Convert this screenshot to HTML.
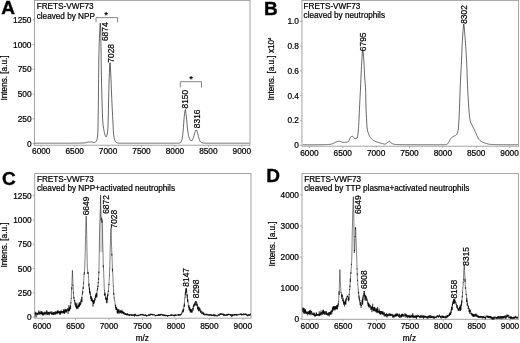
<!DOCTYPE html><html><head><meta charset="utf-8"><style>html,body{margin:0;padding:0;background:#fff;}body{width:520px;height:343px;overflow:hidden;}</style></head><body><svg width="520" height="343" viewBox="0 0 520 343" style="display:block;font-family:'Liberation Sans', Arial, Helvetica, sans-serif">
<rect width="520" height="343" fill="#fff"/>
<rect x="34.5" y="0.4" width="215.50" height="144.80" fill="none" stroke="#9a9a9a" stroke-width="0.9"/>
<line x1="32.5" y1="143.6" x2="34.5" y2="143.6" stroke="#9a9a9a" stroke-width="0.8"/>
<text x="31.5" y="146.50" font-size="8.3" text-anchor="end" fill="#000" stroke="#000" stroke-width="0.22">0</text>
<line x1="32.5" y1="118.85" x2="34.5" y2="118.85" stroke="#9a9a9a" stroke-width="0.8"/>
<text x="31.5" y="121.75" font-size="8.3" text-anchor="end" fill="#000" stroke="#000" stroke-width="0.22">250</text>
<line x1="32.5" y1="94.1" x2="34.5" y2="94.1" stroke="#9a9a9a" stroke-width="0.8"/>
<text x="31.5" y="97.00" font-size="8.3" text-anchor="end" fill="#000" stroke="#000" stroke-width="0.22">500</text>
<line x1="32.5" y1="69.35" x2="34.5" y2="69.35" stroke="#9a9a9a" stroke-width="0.8"/>
<text x="31.5" y="72.25" font-size="8.3" text-anchor="end" fill="#000" stroke="#000" stroke-width="0.22">750</text>
<line x1="32.5" y1="44.6" x2="34.5" y2="44.6" stroke="#9a9a9a" stroke-width="0.8"/>
<text x="31.5" y="47.50" font-size="8.3" text-anchor="end" fill="#000" stroke="#000" stroke-width="0.22">1000</text>
<line x1="32.5" y1="19.85" x2="34.5" y2="19.85" stroke="#9a9a9a" stroke-width="0.8"/>
<text x="31.5" y="22.75" font-size="8.3" text-anchor="end" fill="#000" stroke="#000" stroke-width="0.22">1250</text>
<line x1="41.25" y1="145.2" x2="41.25" y2="147.2" stroke="#9a9a9a" stroke-width="0.8"/>
<text x="41.25" y="154.3" font-size="8.3" text-anchor="middle" fill="#000" stroke="#000" stroke-width="0.22">6000</text>
<line x1="74.68" y1="145.2" x2="74.68" y2="147.2" stroke="#9a9a9a" stroke-width="0.8"/>
<text x="74.68" y="154.3" font-size="8.3" text-anchor="middle" fill="#000" stroke="#000" stroke-width="0.22">6500</text>
<line x1="108.10" y1="145.2" x2="108.10" y2="147.2" stroke="#9a9a9a" stroke-width="0.8"/>
<text x="108.10" y="154.3" font-size="8.3" text-anchor="middle" fill="#000" stroke="#000" stroke-width="0.22">7000</text>
<line x1="141.53" y1="145.2" x2="141.53" y2="147.2" stroke="#9a9a9a" stroke-width="0.8"/>
<text x="141.53" y="154.3" font-size="8.3" text-anchor="middle" fill="#000" stroke="#000" stroke-width="0.22">7500</text>
<line x1="174.95" y1="145.2" x2="174.95" y2="147.2" stroke="#9a9a9a" stroke-width="0.8"/>
<text x="174.95" y="154.3" font-size="8.3" text-anchor="middle" fill="#000" stroke="#000" stroke-width="0.22">8000</text>
<line x1="208.38" y1="145.2" x2="208.38" y2="147.2" stroke="#9a9a9a" stroke-width="0.8"/>
<text x="208.38" y="154.3" font-size="8.3" text-anchor="middle" fill="#000" stroke="#000" stroke-width="0.22">8500</text>
<line x1="241.80" y1="145.2" x2="241.80" y2="147.2" stroke="#9a9a9a" stroke-width="0.8"/>
<text x="241.80" y="154.3" font-size="8.3" text-anchor="middle" fill="#000" stroke="#000" stroke-width="0.22">9000</text>
<text x="36.7" y="9.40" font-size="8.2" fill="#000" stroke="#000" stroke-width="0.22">FRETS-VWF73</text>
<text x="36.7" y="18.60" font-size="8.2" fill="#000" stroke="#000" stroke-width="0.22">cleaved by NPP</text>
<text x="1.2" y="13.8" font-size="19" font-weight="bold" fill="#000" stroke="#000" stroke-width="0.35">A</text>
<text transform="translate(7.0,78.0) rotate(-90)" font-size="8.2" text-anchor="middle" fill="#000" stroke="#000" stroke-width="0.22">Intens. [a.u.]</text>
<polyline points="34.60,143.20 34.80,143.20 35.00,143.20 35.20,143.20 35.40,143.20 35.60,143.20 35.80,143.20 36.00,143.20 36.20,143.20 36.40,143.20 36.60,143.20 36.80,143.20 37.00,143.20 37.20,143.20 37.40,143.20 37.60,143.20 37.80,143.20 38.00,143.20 38.20,143.20 38.40,143.20 38.60,143.20 38.80,143.20 39.00,143.20 39.20,143.20 39.40,143.20 39.60,143.20 39.80,143.20 40.00,143.20 40.20,143.20 40.40,143.20 40.60,143.20 40.80,143.20 41.00,143.20 41.20,143.20 41.40,143.20 41.60,143.20 41.80,143.20 42.00,143.20 42.20,143.20 42.40,143.20 42.60,143.20 42.80,143.20 43.00,143.20 43.20,143.20 43.40,143.20 43.60,143.20 43.80,143.20 44.00,143.20 44.20,143.20 44.40,143.20 44.60,143.20 44.80,143.20 45.00,143.20 45.20,143.20 45.40,143.20 45.60,143.20 45.80,143.20 46.00,143.20 46.20,143.20 46.40,143.20 46.60,143.20 46.80,143.20 47.00,143.20 47.20,143.20 47.40,143.20 47.60,143.20 47.80,143.20 48.00,143.20 48.20,143.20 48.40,143.20 48.60,143.20 48.80,143.20 49.00,143.20 49.20,143.20 49.40,143.20 49.60,143.20 49.80,143.20 50.00,143.20 50.20,143.20 50.40,143.20 50.60,143.20 50.80,143.20 51.00,143.20 51.20,143.20 51.40,143.20 51.60,143.20 51.80,143.20 52.00,143.20 52.20,143.20 52.40,143.20 52.60,143.20 52.80,143.20 53.00,143.20 53.20,143.20 53.40,143.20 53.60,143.20 53.80,143.20 54.00,143.20 54.20,143.20 54.40,143.20 54.60,143.20 54.80,143.20 55.00,143.20 55.20,143.20 55.40,143.20 55.60,143.20 55.80,143.20 56.00,143.20 56.20,143.20 56.40,143.20 56.60,143.20 56.80,143.20 57.00,143.20 57.20,143.20 57.40,143.20 57.60,143.20 57.80,143.20 58.00,143.20 58.20,143.20 58.40,143.20 58.60,143.20 58.80,143.20 59.00,143.20 59.20,143.20 59.40,143.20 59.60,143.20 59.80,143.20 60.00,143.20 60.20,143.20 60.40,143.20 60.60,143.20 60.80,143.20 61.00,143.20 61.20,143.20 61.40,143.20 61.60,143.20 61.80,143.20 62.00,143.20 62.20,143.20 62.40,143.20 62.60,143.20 62.80,143.20 63.00,143.20 63.20,143.20 63.40,143.20 63.60,143.20 63.80,143.20 64.00,143.20 64.20,143.20 64.40,143.20 64.60,143.20 64.80,143.20 65.00,143.19 65.20,143.19 65.40,143.19 65.60,143.19 65.80,143.19 66.00,143.19 66.20,143.19 66.40,143.19 66.60,143.19 66.80,143.19 67.00,143.19 67.20,143.19 67.40,143.19 67.60,143.19 67.80,143.19 68.00,143.19 68.20,143.19 68.40,143.18 68.60,143.18 68.80,143.18 69.00,143.18 69.20,143.18 69.40,143.18 69.60,143.18 69.80,143.18 70.00,143.18 70.20,143.18 70.40,143.18 70.60,143.17 70.80,143.17 71.00,143.17 71.20,143.17 71.40,143.17 71.60,143.17 71.80,143.17 72.00,143.17 72.20,143.17 72.40,143.16 72.60,143.16 72.80,143.16 73.00,143.16 73.20,143.16 73.40,143.16 73.60,143.16 73.80,143.16 74.00,143.15 74.20,143.15 74.40,143.15 74.60,143.15 74.80,143.15 75.00,143.15 75.20,143.15 75.40,143.14 75.60,143.14 75.80,143.14 76.00,143.14 76.20,143.14 76.40,143.14 76.60,143.13 76.80,143.13 77.00,143.13 77.20,143.13 77.40,143.13 77.60,143.12 77.80,143.12 78.00,143.12 78.20,143.12 78.40,143.12 78.60,143.11 78.80,143.11 79.00,143.11 79.20,143.11 79.40,143.11 79.60,143.10 79.80,143.10 80.00,143.10 80.20,143.10 80.40,143.09 80.60,143.09 80.80,143.08 81.00,143.08 81.20,143.07 81.40,143.06 81.60,143.05 81.80,143.04 82.00,143.03 82.20,143.02 82.40,143.01 82.60,143.00 82.80,142.99 83.00,142.97 83.20,142.96 83.40,142.94 83.60,142.93 83.80,142.91 84.00,142.89 84.20,142.88 84.40,142.86 84.60,142.84 84.80,142.82 85.00,142.80 85.20,142.77 85.40,142.74 85.60,142.69 85.80,142.64 86.00,142.58 86.20,142.52 86.40,142.46 86.60,142.40 86.80,142.34 87.00,142.28 87.20,142.23 87.40,142.18 87.60,142.14 87.80,142.12 88.00,142.10 88.20,142.09 88.40,142.08 88.60,142.07 88.80,142.07 89.00,142.06 89.20,142.05 89.40,142.04 89.60,142.04 89.80,142.03 90.00,142.03 90.20,142.02 90.40,142.02 90.60,142.01 90.80,142.01 91.00,142.01 91.20,142.00 91.40,142.00 91.60,142.00 91.80,142.00 92.00,142.00 92.20,142.02 92.40,142.07 92.60,142.15 92.80,142.25 93.00,142.35 93.20,142.45 93.40,142.55 93.60,142.63 93.80,142.68 94.00,142.70 94.20,142.68 94.40,142.64 94.60,142.57 94.80,142.48 95.00,142.37 95.20,142.26 95.40,142.13 95.60,141.97 95.80,141.75 96.00,141.49 96.20,141.18 96.40,140.83 96.60,140.42 96.80,139.96 97.00,139.36 97.20,138.54 97.40,137.45 97.60,136.00 97.80,133.14 98.00,128.00 98.20,116.56 98.40,100.00 98.60,78.68 98.80,60.00 99.00,50.47 99.20,43.67 99.40,38.51 99.60,33.61 99.80,29.19 100.00,25.66 100.20,23.45 100.40,23.11 100.60,27.50 100.80,35.50 101.00,46.17 101.20,63.01 101.40,75.35 101.60,84.76 101.80,92.83 102.00,100.00 102.20,106.93 102.40,113.37 102.60,118.40 102.80,121.41 103.00,123.65 103.20,125.48 103.40,127.01 103.60,128.31 103.80,129.50 104.00,130.63 104.20,131.69 104.40,132.67 104.60,133.56 104.80,134.33 105.00,134.98 105.20,135.50 105.40,135.94 105.60,136.36 105.80,136.68 106.00,136.87 106.20,136.87 106.40,136.62 106.60,136.16 106.80,135.55 107.00,134.81 107.20,134.00 107.40,133.00 107.60,131.60 107.80,129.64 108.00,127.00 108.20,120.43 108.40,109.88 108.60,100.00 108.80,91.93 109.00,84.21 109.20,77.63 109.40,72.59 109.60,67.85 109.80,64.18 110.00,62.70 110.20,63.91 110.40,66.95 110.60,70.94 110.80,75.00 111.00,79.40 111.20,84.60 111.40,90.00 111.60,95.00 111.80,99.52 112.00,103.86 112.20,108.00 112.40,111.92 112.60,115.54 112.80,119.13 113.00,123.08 113.20,127.69 113.40,131.69 113.60,133.96 113.80,135.67 114.00,137.11 114.20,138.27 114.40,139.17 114.60,139.80 114.80,140.28 115.00,140.72 115.20,141.11 115.40,141.46 115.60,141.77 115.80,142.03 116.00,142.25 116.20,142.42 116.40,142.55 116.60,142.64 116.80,142.72 117.00,142.80 117.20,142.87 117.40,142.93 117.60,142.99 117.80,143.05 118.00,143.09 118.20,143.13 118.40,143.16 118.60,143.18 118.80,143.20 119.00,143.20 119.20,143.20 119.40,143.20 119.60,143.20 119.80,143.20 120.00,143.20 120.20,143.20 120.40,143.20 120.60,143.20 120.80,143.20 121.00,143.20 121.20,143.20 121.40,143.20 121.60,143.20 121.80,143.20 122.00,143.20 122.20,143.20 122.40,143.20 122.60,143.20 122.80,143.20 123.00,143.20 123.20,143.20 123.40,143.20 123.60,143.20 123.80,143.20 124.00,143.20 124.20,143.20 124.40,143.20 124.60,143.20 124.80,143.20 125.00,143.20 125.20,143.20 125.40,143.20 125.60,143.20 125.80,143.20 126.00,143.20 126.20,143.20 126.40,143.20 126.60,143.20 126.80,143.20 127.00,143.20 127.20,143.20 127.40,143.20 127.60,143.20 127.80,143.20 128.00,143.20 128.20,143.20 128.40,143.20 128.60,143.20 128.80,143.20 129.00,143.20 129.20,143.20 129.40,143.20 129.60,143.20 129.80,143.20 130.00,143.20 130.20,143.20 130.40,143.20 130.60,143.20 130.80,143.20 131.00,143.20 131.20,143.20 131.40,143.20 131.60,143.20 131.80,143.20 132.00,143.20 132.20,143.20 132.40,143.20 132.60,143.20 132.80,143.20 133.00,143.20 133.20,143.20 133.40,143.20 133.60,143.20 133.80,143.20 134.00,143.20 134.20,143.20 134.40,143.20 134.60,143.20 134.80,143.20 135.00,143.20 135.20,143.20 135.40,143.20 135.60,143.20 135.80,143.20 136.00,143.20 136.20,143.20 136.40,143.20 136.60,143.20 136.80,143.20 137.00,143.20 137.20,143.20 137.40,143.20 137.60,143.20 137.80,143.20 138.00,143.20 138.20,143.20 138.40,143.20 138.60,143.20 138.80,143.20 139.00,143.20 139.20,143.20 139.40,143.20 139.60,143.20 139.80,143.20 140.00,143.20 140.20,143.20 140.40,143.20 140.60,143.20 140.80,143.20 141.00,143.20 141.20,143.20 141.40,143.20 141.60,143.20 141.80,143.20 142.00,143.20 142.20,143.20 142.40,143.20 142.60,143.20 142.80,143.20 143.00,143.20 143.20,143.20 143.40,143.20 143.60,143.20 143.80,143.20 144.00,143.20 144.20,143.20 144.40,143.20 144.60,143.20 144.80,143.20 145.00,143.20 145.20,143.20 145.40,143.20 145.60,143.20 145.80,143.20 146.00,143.20 146.20,143.20 146.40,143.20 146.60,143.20 146.80,143.20 147.00,143.20 147.20,143.20 147.40,143.20 147.60,143.20 147.80,143.20 148.00,143.20 148.20,143.20 148.40,143.20 148.60,143.20 148.80,143.20 149.00,143.20 149.20,143.20 149.40,143.20 149.60,143.20 149.80,143.20 150.00,143.20 150.20,143.20 150.40,143.20 150.60,143.20 150.80,143.20 151.00,143.20 151.20,143.20 151.40,143.20 151.60,143.20 151.80,143.20 152.00,143.20 152.20,143.20 152.40,143.20 152.60,143.20 152.80,143.20 153.00,143.20 153.20,143.20 153.40,143.20 153.60,143.20 153.80,143.20 154.00,143.20 154.20,143.20 154.40,143.20 154.60,143.20 154.80,143.20 155.00,143.20 155.20,143.20 155.40,143.20 155.60,143.20 155.80,143.20 156.00,143.20 156.20,143.20 156.40,143.20 156.60,143.20 156.80,143.20 157.00,143.20 157.20,143.20 157.40,143.20 157.60,143.20 157.80,143.20 158.00,143.20 158.20,143.20 158.40,143.20 158.60,143.20 158.80,143.20 159.00,143.20 159.20,143.20 159.40,143.20 159.60,143.20 159.80,143.20 160.00,143.20 160.20,143.20 160.40,143.20 160.60,143.20 160.80,143.20 161.00,143.20 161.20,143.20 161.40,143.20 161.60,143.20 161.80,143.20 162.00,143.20 162.20,143.20 162.40,143.20 162.60,143.20 162.80,143.20 163.00,143.20 163.20,143.20 163.40,143.20 163.60,143.20 163.80,143.20 164.00,143.20 164.20,143.20 164.40,143.20 164.60,143.20 164.80,143.20 165.00,143.20 165.20,143.20 165.40,143.20 165.60,143.20 165.80,143.20 166.00,143.20 166.20,143.20 166.40,143.20 166.60,143.20 166.80,143.20 167.00,143.20 167.20,143.20 167.40,143.20 167.60,143.20 167.80,143.20 168.00,143.20 168.20,143.20 168.40,143.20 168.60,143.20 168.80,143.20 169.00,143.20 169.20,143.20 169.40,143.20 169.60,143.20 169.80,143.20 170.00,143.20 170.20,143.20 170.40,143.20 170.60,143.20 170.80,143.20 171.00,143.20 171.20,143.20 171.40,143.20 171.60,143.20 171.80,143.20 172.00,143.20 172.20,143.20 172.40,143.20 172.60,143.20 172.80,143.20 173.00,143.20 173.20,143.20 173.40,143.20 173.60,143.20 173.80,143.20 174.00,143.20 174.20,143.20 174.40,143.20 174.60,143.20 174.80,143.20 175.00,143.20 175.20,143.20 175.40,143.20 175.60,143.20 175.80,143.20 176.00,143.20 176.20,143.20 176.40,143.20 176.60,143.20 176.80,143.20 177.00,143.20 177.20,143.20 177.40,143.20 177.60,143.20 177.80,143.20 178.00,143.20 178.20,143.20 178.40,143.19 178.60,143.17 178.80,143.15 179.00,143.12 179.20,143.08 179.40,143.04 179.60,142.99 179.80,142.94 180.00,142.88 180.20,142.81 180.40,142.74 180.60,142.65 180.80,142.46 181.00,142.16 181.20,141.78 181.40,141.31 181.60,140.77 181.80,140.16 182.00,139.50 182.20,138.59 182.40,137.30 182.60,135.70 182.80,133.90 183.00,131.97 183.20,130.00 183.40,127.72 183.60,125.00 183.80,122.11 184.00,119.33 184.20,116.95 184.40,115.12 184.60,113.34 184.80,111.68 185.00,110.36 185.20,109.60 185.40,109.61 185.60,110.39 185.80,111.74 186.00,113.40 186.20,115.16 186.40,116.88 186.60,119.01 186.80,121.41 187.00,123.87 187.20,126.14 187.40,128.00 187.60,129.54 187.80,131.01 188.00,132.37 188.20,133.62 188.40,134.74 188.60,135.70 188.80,136.50 189.00,137.19 189.20,137.85 189.40,138.45 189.60,139.00 189.80,139.46 190.00,139.84 190.20,140.11 190.40,140.28 190.60,140.42 190.80,140.54 191.00,140.65 191.20,140.73 191.40,140.78 191.60,140.80 191.80,140.73 192.00,140.53 192.20,140.24 192.40,139.88 192.60,139.46 192.80,139.03 193.00,138.60 193.20,138.12 193.40,137.53 193.60,136.87 193.80,136.16 194.00,135.44 194.20,134.73 194.40,134.08 194.60,133.50 194.80,132.94 195.00,132.34 195.20,131.74 195.40,131.17 195.60,130.67 195.80,130.26 196.00,130.00 196.20,129.90 196.40,130.00 196.60,130.28 196.80,130.69 197.00,131.21 197.20,131.79 197.40,132.40 197.60,133.00 197.80,133.69 198.00,134.54 198.20,135.48 198.40,136.42 198.60,137.28 198.80,138.00 199.00,138.61 199.20,139.22 199.40,139.79 199.60,140.32 199.80,140.79 200.00,141.18 200.20,141.49 200.40,141.70 200.60,141.88 200.80,142.05 201.00,142.21 201.20,142.35 201.40,142.48 201.60,142.59 201.80,142.69 202.00,142.77 202.20,142.83 202.40,142.88 202.60,142.92 202.80,142.95 203.00,142.97 203.20,143.00 203.40,143.03 203.60,143.05 203.80,143.07 204.00,143.10 204.20,143.11 204.40,143.13 204.60,143.15 204.80,143.16 205.00,143.17 205.20,143.18 205.40,143.19 205.60,143.20 205.80,143.20 206.00,143.20 206.20,143.20 206.40,143.20 206.60,143.20 206.80,143.20 207.00,143.20 207.20,143.20 207.40,143.20 207.60,143.20 207.80,143.20 208.00,143.20 208.20,143.20 208.40,143.20 208.60,143.20 208.80,143.20 209.00,143.20 209.20,143.20 209.40,143.20 209.60,143.20 209.80,143.20 210.00,143.20 210.20,143.20 210.40,143.20 210.60,143.20 210.80,143.20 211.00,143.20 211.20,143.20 211.40,143.20 211.60,143.20 211.80,143.20 212.00,143.20 212.20,143.20 212.40,143.20 212.60,143.20 212.80,143.20 213.00,143.20 213.20,143.20 213.40,143.20 213.60,143.20 213.80,143.20 214.00,143.20 214.20,143.20 214.40,143.20 214.60,143.20 214.80,143.20 215.00,143.20 215.20,143.20 215.40,143.20 215.60,143.20 215.80,143.20 216.00,143.20 216.20,143.20 216.40,143.20 216.60,143.20 216.80,143.20 217.00,143.20 217.20,143.20 217.40,143.20 217.60,143.20 217.80,143.20 218.00,143.20 218.20,143.20 218.40,143.20 218.60,143.20 218.80,143.20 219.00,143.20 219.20,143.20 219.40,143.20 219.60,143.20 219.80,143.20 220.00,143.20 220.20,143.20 220.40,143.20 220.60,143.20 220.80,143.20 221.00,143.20 221.20,143.20 221.40,143.20 221.60,143.20 221.80,143.20 222.00,143.20 222.20,143.20 222.40,143.20 222.60,143.20 222.80,143.20 223.00,143.20 223.20,143.20 223.40,143.20 223.60,143.20 223.80,143.20 224.00,143.20 224.20,143.20 224.40,143.20 224.60,143.20 224.80,143.20 225.00,143.20 225.20,143.20 225.40,143.20 225.60,143.20 225.80,143.20 226.00,143.20 226.20,143.20 226.40,143.20 226.60,143.20 226.80,143.20 227.00,143.20 227.20,143.20 227.40,143.20 227.60,143.20 227.80,143.20 228.00,143.20 228.20,143.20 228.40,143.20 228.60,143.20 228.80,143.20 229.00,143.20 229.20,143.20 229.40,143.20 229.60,143.20 229.80,143.20 230.00,143.20 230.20,143.20 230.40,143.20 230.60,143.20 230.80,143.20 231.00,143.20 231.20,143.20 231.40,143.20 231.60,143.20 231.80,143.20 232.00,143.20 232.20,143.20 232.40,143.20 232.60,143.20 232.80,143.20 233.00,143.20 233.20,143.20 233.40,143.20 233.60,143.20 233.80,143.20 234.00,143.20 234.20,143.20 234.40,143.20 234.60,143.20 234.80,143.20 235.00,143.20 235.20,143.20 235.40,143.20 235.60,143.20 235.80,143.20 236.00,143.20 236.20,143.20 236.40,143.20 236.60,143.20 236.80,143.20 237.00,143.20 237.20,143.20 237.40,143.20 237.60,143.20 237.80,143.20 238.00,143.20 238.20,143.20 238.40,143.20 238.60,143.20 238.80,143.20 239.00,143.20 239.20,143.20 239.40,143.20 239.60,143.20 239.80,143.20 240.00,143.20 240.20,143.20 240.40,143.20 240.60,143.20 240.80,143.20 241.00,143.20 241.20,143.20 241.40,143.20 241.60,143.20 241.80,143.20 242.00,143.20 242.20,143.20 242.40,143.20 242.60,143.20 242.80,143.20 243.00,143.20 243.20,143.20 243.40,143.20 243.60,143.20 243.80,143.20 244.00,143.20 244.20,143.20 244.40,143.20 244.60,143.20 244.80,143.20 245.00,143.20 245.20,143.20 245.40,143.20 245.60,143.20 245.80,143.20 246.00,143.20 246.20,143.20 246.40,143.20 246.60,143.20 246.80,143.20 247.00,143.20 247.20,143.20 247.40,143.20 247.60,143.20 247.80,143.20 248.00,143.20 248.20,143.20 248.40,143.20 248.60,143.20 248.80,143.20 249.00,143.20 249.20,143.20 249.40,143.20" fill="none" stroke="#000" stroke-width="0.6" stroke-linejoin="round"/>
<text transform="translate(108.0,22.4) rotate(-90)" font-size="8.4" text-anchor="end" fill="#000" stroke="#000" stroke-width="0.22">6874</text>
<text transform="translate(113.6,44.0) rotate(-90)" font-size="8.4" text-anchor="end" fill="#000" stroke="#000" stroke-width="0.22">7028</text>
<text transform="translate(188.4,89.8) rotate(-90)" font-size="8.4" text-anchor="end" fill="#000" stroke="#000" stroke-width="0.22">8150</text>
<text transform="translate(199.9,109.5) rotate(-90)" font-size="8.4" text-anchor="end" fill="#000" stroke="#000" stroke-width="0.22">8316</text>
<polyline points="96.0,22.4 96.0,17.6 117.6,17.6 117.6,22.4" fill="none" stroke="#555" stroke-width="0.7"/><text x="106.1" y="17.6" font-size="9.5" font-weight="bold" text-anchor="middle" fill="#000">*</text>
<polyline points="180.3,87.5 180.3,81.7 201.5,81.7 201.5,87.5" fill="none" stroke="#555" stroke-width="0.7"/><text x="191.0" y="82.3" font-size="9.5" font-weight="bold" text-anchor="middle" fill="#000">*</text>
<rect x="301.95" y="0.4" width="216.65" height="145.80" fill="none" stroke="#9a9a9a" stroke-width="0.9"/>
<line x1="299.95" y1="145.2" x2="301.95" y2="145.2" stroke="#9a9a9a" stroke-width="0.8"/>
<text x="298.95" y="148.10" font-size="8.3" text-anchor="end" fill="#000" stroke="#000" stroke-width="0.22">0</text>
<line x1="299.95" y1="120.44" x2="301.95" y2="120.44" stroke="#9a9a9a" stroke-width="0.8"/>
<text x="298.95" y="123.34" font-size="8.3" text-anchor="end" fill="#000" stroke="#000" stroke-width="0.22">0.2</text>
<line x1="299.95" y1="95.68" x2="301.95" y2="95.68" stroke="#9a9a9a" stroke-width="0.8"/>
<text x="298.95" y="98.58" font-size="8.3" text-anchor="end" fill="#000" stroke="#000" stroke-width="0.22">0.4</text>
<line x1="299.95" y1="70.92" x2="301.95" y2="70.92" stroke="#9a9a9a" stroke-width="0.8"/>
<text x="298.95" y="73.82" font-size="8.3" text-anchor="end" fill="#000" stroke="#000" stroke-width="0.22">0.6</text>
<line x1="299.95" y1="46.16" x2="301.95" y2="46.16" stroke="#9a9a9a" stroke-width="0.8"/>
<text x="298.95" y="49.06" font-size="8.3" text-anchor="end" fill="#000" stroke="#000" stroke-width="0.22">0.8</text>
<line x1="299.95" y1="21.4" x2="301.95" y2="21.4" stroke="#9a9a9a" stroke-width="0.8"/>
<text x="298.95" y="24.30" font-size="8.3" text-anchor="end" fill="#000" stroke="#000" stroke-width="0.22">1.0</text>
<line x1="309.40" y1="146.2" x2="309.40" y2="148.2" stroke="#9a9a9a" stroke-width="0.8"/>
<text x="309.40" y="155.7" font-size="8.3" text-anchor="middle" fill="#000" stroke="#000" stroke-width="0.22">6000</text>
<line x1="342.77" y1="146.2" x2="342.77" y2="148.2" stroke="#9a9a9a" stroke-width="0.8"/>
<text x="342.77" y="155.7" font-size="8.3" text-anchor="middle" fill="#000" stroke="#000" stroke-width="0.22">6500</text>
<line x1="376.13" y1="146.2" x2="376.13" y2="148.2" stroke="#9a9a9a" stroke-width="0.8"/>
<text x="376.13" y="155.7" font-size="8.3" text-anchor="middle" fill="#000" stroke="#000" stroke-width="0.22">7000</text>
<line x1="409.50" y1="146.2" x2="409.50" y2="148.2" stroke="#9a9a9a" stroke-width="0.8"/>
<text x="409.50" y="155.7" font-size="8.3" text-anchor="middle" fill="#000" stroke="#000" stroke-width="0.22">7500</text>
<line x1="442.87" y1="146.2" x2="442.87" y2="148.2" stroke="#9a9a9a" stroke-width="0.8"/>
<text x="442.87" y="155.7" font-size="8.3" text-anchor="middle" fill="#000" stroke="#000" stroke-width="0.22">8000</text>
<line x1="476.23" y1="146.2" x2="476.23" y2="148.2" stroke="#9a9a9a" stroke-width="0.8"/>
<text x="476.23" y="155.7" font-size="8.3" text-anchor="middle" fill="#000" stroke="#000" stroke-width="0.22">8500</text>
<line x1="509.60" y1="146.2" x2="509.60" y2="148.2" stroke="#9a9a9a" stroke-width="0.8"/>
<text x="509.60" y="155.7" font-size="8.3" text-anchor="middle" fill="#000" stroke="#000" stroke-width="0.22">9000</text>
<text x="303.55" y="8.80" font-size="8.2" fill="#000" stroke="#000" stroke-width="0.22">FRETS-VWF73</text>
<text x="303.55" y="18.10" font-size="8.2" fill="#000" stroke="#000" stroke-width="0.22">cleaved by neutrophils</text>
<text x="264.1" y="14.7" font-size="19" font-weight="bold" fill="#000" stroke="#000" stroke-width="0.35">B</text>
<text transform="translate(273.8,69.0) rotate(-90)" font-size="8.2" text-anchor="middle" fill="#000" stroke="#000" stroke-width="0.22">Intens. [a.u.] x10<tspan font-size="4.2" dy="-3.0">4</tspan></text>
<polyline points="302.90,144.60 303.10,144.61 303.30,144.62 303.50,144.63 303.70,144.64 303.90,144.65 304.10,144.66 304.30,144.67 304.50,144.68 304.70,144.69 304.90,144.70 305.10,144.70 305.30,144.71 305.50,144.72 305.70,144.73 305.90,144.73 306.10,144.74 306.30,144.75 306.50,144.76 306.70,144.76 306.90,144.77 307.10,144.77 307.30,144.78 307.50,144.78 307.70,144.79 307.90,144.79 308.10,144.79 308.30,144.79 308.50,144.80 308.70,144.80 308.90,144.80 309.10,144.80 309.30,144.80 309.50,144.80 309.70,144.80 309.90,144.80 310.10,144.80 310.30,144.80 310.50,144.80 310.70,144.79 310.90,144.79 311.10,144.79 311.30,144.79 311.50,144.79 311.70,144.79 311.90,144.78 312.10,144.78 312.30,144.78 312.50,144.78 312.70,144.77 312.90,144.77 313.10,144.77 313.30,144.76 313.50,144.76 313.70,144.76 313.90,144.75 314.10,144.75 314.30,144.75 314.50,144.75 314.70,144.74 314.90,144.74 315.10,144.74 315.30,144.73 315.50,144.73 315.70,144.73 315.90,144.72 316.10,144.72 316.30,144.72 316.50,144.71 316.70,144.71 316.90,144.71 317.10,144.70 317.30,144.70 317.50,144.70 317.70,144.69 317.90,144.69 318.10,144.69 318.30,144.69 318.50,144.68 318.70,144.68 318.90,144.68 319.10,144.68 319.30,144.67 319.50,144.67 319.70,144.67 319.90,144.67 320.10,144.66 320.30,144.66 320.50,144.66 320.70,144.66 320.90,144.65 321.10,144.65 321.30,144.65 321.50,144.65 321.70,144.64 321.90,144.64 322.10,144.64 322.30,144.63 322.50,144.63 322.70,144.63 322.90,144.62 323.10,144.62 323.30,144.62 323.50,144.61 323.70,144.61 323.90,144.61 324.10,144.60 324.30,144.60 324.50,144.60 324.70,144.59 324.90,144.59 325.10,144.58 325.30,144.58 325.50,144.57 325.70,144.57 325.90,144.56 326.10,144.56 326.30,144.55 326.50,144.55 326.70,144.54 326.90,144.54 327.10,144.53 327.30,144.52 327.50,144.52 327.70,144.51 327.90,144.50 328.10,144.50 328.30,144.49 328.50,144.48 328.70,144.46 328.90,144.45 329.10,144.43 329.30,144.42 329.50,144.40 329.70,144.38 329.90,144.35 330.10,144.33 330.30,144.30 330.50,144.28 330.70,144.25 330.90,144.22 331.10,144.18 331.30,144.14 331.50,144.08 331.70,144.02 331.90,143.95 332.10,143.87 332.30,143.79 332.50,143.70 332.70,143.61 332.90,143.52 333.10,143.43 333.30,143.34 333.50,143.26 333.70,143.16 333.90,143.06 334.10,142.95 334.30,142.84 334.50,142.72 334.70,142.61 334.90,142.49 335.10,142.37 335.30,142.25 335.50,142.14 335.70,142.04 335.90,141.94 336.10,141.85 336.30,141.77 336.50,141.70 336.70,141.64 336.90,141.60 337.10,141.57 337.30,141.53 337.50,141.50 337.70,141.47 337.90,141.45 338.10,141.42 338.30,141.40 338.50,141.37 338.70,141.35 338.90,141.34 339.10,141.32 339.30,141.31 339.50,141.30 339.70,141.30 339.90,141.30 340.10,141.33 340.30,141.38 340.50,141.45 340.70,141.53 340.90,141.62 341.10,141.72 341.30,141.83 341.50,141.93 341.70,142.03 341.90,142.11 342.10,142.19 342.30,142.25 342.50,142.29 342.70,142.30 342.90,142.30 343.10,142.30 343.30,142.30 343.50,142.30 343.70,142.30 343.90,142.30 344.10,142.30 344.30,142.30 344.50,142.30 344.70,142.30 344.90,142.30 345.10,142.30 345.30,142.30 345.50,142.30 345.70,142.30 345.90,142.30 346.10,142.30 346.30,142.29 346.50,142.27 346.70,142.23 346.90,142.18 347.10,142.12 347.30,142.05 347.50,141.97 347.70,141.88 347.90,141.78 348.10,141.67 348.30,141.56 348.50,141.42 348.70,141.18 348.90,140.83 349.10,140.40 349.30,139.91 349.50,139.39 349.70,138.87 349.90,138.36 350.10,137.90 350.30,137.50 350.50,137.19 350.70,137.00 350.90,136.88 351.10,136.76 351.30,136.65 351.50,136.55 351.70,136.47 351.90,136.40 352.10,136.34 352.30,136.31 352.50,136.30 352.70,136.35 352.90,136.48 353.10,136.69 353.30,136.94 353.50,137.23 353.70,137.52 353.90,137.82 354.10,138.09 354.30,138.32 354.50,138.49 354.70,138.59 354.90,138.60 355.10,138.59 355.30,138.58 355.50,138.55 355.70,138.52 355.90,138.48 356.10,138.44 356.30,138.38 356.50,138.31 356.70,138.23 356.90,138.15 357.10,137.99 357.30,137.46 357.50,136.57 357.70,135.45 357.90,134.17 358.10,132.75 358.30,130.80 358.50,128.36 358.70,125.43 358.90,121.52 359.10,117.01 359.30,112.44 359.50,108.25 359.70,104.21 359.90,100.21 360.10,96.20 360.30,92.14 360.50,88.00 360.70,83.70 360.90,79.31 361.10,75.00 361.30,70.65 361.50,66.49 361.70,63.00 361.90,59.43 362.10,55.98 362.30,53.03 362.50,50.97 362.70,50.20 362.90,50.68 363.10,51.99 363.30,53.92 363.50,56.24 363.70,58.74 363.90,61.44 364.10,65.22 364.30,69.66 364.50,74.08 364.70,77.80 364.90,80.47 365.10,82.60 365.30,84.80 365.50,87.70 365.70,92.67 365.90,102.12 366.10,110.30 366.30,114.74 366.50,118.24 366.70,121.97 366.90,125.79 367.10,127.78 367.30,129.13 367.50,130.23 367.70,131.12 367.90,131.87 368.10,132.51 368.30,133.10 368.50,133.66 368.70,134.18 368.90,134.66 369.10,135.11 369.30,135.53 369.50,135.92 369.70,136.28 369.90,136.62 370.10,136.93 370.30,137.22 370.50,137.50 370.70,137.76 370.90,138.02 371.10,138.26 371.30,138.49 371.50,138.70 371.70,138.91 371.90,139.11 372.10,139.30 372.30,139.48 372.50,139.65 372.70,139.81 372.90,139.96 373.10,140.10 373.30,140.24 373.50,140.37 373.70,140.49 373.90,140.61 374.10,140.73 374.30,140.84 374.50,140.95 374.70,141.06 374.90,141.16 375.10,141.26 375.30,141.35 375.50,141.45 375.70,141.53 375.90,141.62 376.10,141.70 376.30,141.78 376.50,141.86 376.70,141.94 376.90,142.01 377.10,142.08 377.30,142.15 377.50,142.22 377.70,142.28 377.90,142.35 378.10,142.41 378.30,142.47 378.50,142.53 378.70,142.59 378.90,142.64 379.10,142.70 379.30,142.76 379.50,142.81 379.70,142.86 379.90,142.92 380.10,142.97 380.30,143.02 380.50,143.07 380.70,143.12 380.90,143.17 381.10,143.23 381.30,143.28 381.50,143.34 381.70,143.40 381.90,143.46 382.10,143.52 382.30,143.58 382.50,143.64 382.70,143.70 382.90,143.76 383.10,143.82 383.30,143.87 383.50,143.92 383.70,143.96 383.90,144.00 384.10,144.04 384.30,144.06 384.50,144.08 384.70,144.10 384.90,144.10 385.10,144.08 385.30,144.03 385.50,143.95 385.70,143.84 385.90,143.72 386.10,143.58 386.30,143.43 386.50,143.27 386.70,143.11 386.90,142.95 387.10,142.80 387.30,142.66 387.50,142.54 387.70,142.39 387.90,142.24 388.10,142.07 388.30,141.91 388.50,141.75 388.70,141.61 388.90,141.48 389.10,141.39 389.30,141.32 389.50,141.30 389.70,141.34 389.90,141.46 390.10,141.64 390.30,141.87 390.50,142.12 390.70,142.38 390.90,142.63 391.10,142.87 391.30,143.06 391.50,143.20 391.70,143.30 391.90,143.41 392.10,143.50 392.30,143.60 392.50,143.69 392.70,143.78 392.90,143.86 393.10,143.94 393.30,144.02 393.50,144.08 393.70,144.15 393.90,144.20 394.10,144.26 394.30,144.30 394.50,144.34 394.70,144.37 394.90,144.39 395.10,144.41 395.30,144.42 395.50,144.44 395.70,144.45 395.90,144.46 396.10,144.47 396.30,144.48 396.50,144.50 396.70,144.51 396.90,144.51 397.10,144.52 397.30,144.53 397.50,144.54 397.70,144.55 397.90,144.55 398.10,144.56 398.30,144.57 398.50,144.57 398.70,144.58 398.90,144.58 399.10,144.59 399.30,144.59 399.50,144.59 399.70,144.60 399.90,144.60 400.10,144.60 400.30,144.60 400.50,144.61 400.70,144.61 400.90,144.61 401.10,144.61 401.30,144.61 401.50,144.62 401.70,144.62 401.90,144.62 402.10,144.62 402.30,144.62 402.50,144.62 402.70,144.63 402.90,144.63 403.10,144.63 403.30,144.63 403.50,144.63 403.70,144.63 403.90,144.64 404.10,144.64 404.30,144.64 404.50,144.64 404.70,144.64 404.90,144.64 405.10,144.65 405.30,144.65 405.50,144.65 405.70,144.65 405.90,144.65 406.10,144.65 406.30,144.65 406.50,144.66 406.70,144.66 406.90,144.66 407.10,144.66 407.30,144.66 407.50,144.66 407.70,144.66 407.90,144.66 408.10,144.67 408.30,144.67 408.50,144.67 408.70,144.67 408.90,144.67 409.10,144.67 409.30,144.67 409.50,144.67 409.70,144.67 409.90,144.68 410.10,144.68 410.30,144.68 410.50,144.68 410.70,144.68 410.90,144.68 411.10,144.68 411.30,144.68 411.50,144.68 411.70,144.68 411.90,144.68 412.10,144.69 412.30,144.69 412.50,144.69 412.70,144.69 412.90,144.69 413.10,144.69 413.30,144.69 413.50,144.69 413.70,144.69 413.90,144.69 414.10,144.69 414.30,144.69 414.50,144.69 414.70,144.69 414.90,144.69 415.10,144.69 415.30,144.69 415.50,144.70 415.70,144.70 415.90,144.70 416.10,144.70 416.30,144.70 416.50,144.70 416.70,144.70 416.90,144.70 417.10,144.70 417.30,144.70 417.50,144.70 417.70,144.70 417.90,144.70 418.10,144.70 418.30,144.70 418.50,144.70 418.70,144.70 418.90,144.70 419.10,144.70 419.30,144.70 419.50,144.70 419.70,144.70 419.90,144.70 420.10,144.70 420.30,144.70 420.50,144.70 420.70,144.70 420.90,144.70 421.10,144.70 421.30,144.70 421.50,144.70 421.70,144.70 421.90,144.70 422.10,144.70 422.30,144.70 422.50,144.70 422.70,144.70 422.90,144.70 423.10,144.70 423.30,144.70 423.50,144.70 423.70,144.70 423.90,144.70 424.10,144.70 424.30,144.70 424.50,144.70 424.70,144.70 424.90,144.70 425.10,144.70 425.30,144.70 425.50,144.70 425.70,144.70 425.90,144.70 426.10,144.70 426.30,144.70 426.50,144.70 426.70,144.70 426.90,144.70 427.10,144.70 427.30,144.70 427.50,144.70 427.70,144.70 427.90,144.70 428.10,144.70 428.30,144.70 428.50,144.70 428.70,144.70 428.90,144.70 429.10,144.70 429.30,144.70 429.50,144.70 429.70,144.70 429.90,144.70 430.10,144.70 430.30,144.70 430.50,144.70 430.70,144.70 430.90,144.70 431.10,144.70 431.30,144.70 431.50,144.70 431.70,144.70 431.90,144.70 432.10,144.70 432.30,144.70 432.50,144.70 432.70,144.70 432.90,144.70 433.10,144.70 433.30,144.70 433.50,144.70 433.70,144.70 433.90,144.70 434.10,144.70 434.30,144.70 434.50,144.70 434.70,144.70 434.90,144.70 435.10,144.70 435.30,144.70 435.50,144.70 435.70,144.70 435.90,144.70 436.10,144.70 436.30,144.70 436.50,144.70 436.70,144.70 436.90,144.70 437.10,144.70 437.30,144.70 437.50,144.70 437.70,144.70 437.90,144.70 438.10,144.70 438.30,144.70 438.50,144.70 438.70,144.70 438.90,144.70 439.10,144.70 439.30,144.70 439.50,144.70 439.70,144.70 439.90,144.70 440.10,144.70 440.30,144.70 440.50,144.70 440.70,144.70 440.90,144.70 441.10,144.70 441.30,144.70 441.50,144.70 441.70,144.70 441.90,144.70 442.10,144.70 442.30,144.70 442.50,144.70 442.70,144.70 442.90,144.70 443.10,144.70 443.30,144.70 443.50,144.70 443.70,144.70 443.90,144.70 444.10,144.70 444.30,144.70 444.50,144.70 444.70,144.70 444.90,144.70 445.10,144.70 445.30,144.69 445.50,144.67 445.70,144.64 445.90,144.61 446.10,144.56 446.30,144.51 446.50,144.46 446.70,144.40 446.90,144.33 447.10,144.26 447.30,144.13 447.50,143.95 447.70,143.73 447.90,143.48 448.10,143.20 448.30,142.90 448.50,142.58 448.70,142.27 448.90,141.95 449.10,141.64 449.30,141.28 449.50,140.89 449.70,140.47 449.90,140.05 450.10,139.64 450.30,139.27 450.50,138.94 450.70,138.67 450.90,138.42 451.10,138.19 451.30,137.97 451.50,137.77 451.70,137.57 451.90,137.40 452.10,137.23 452.30,137.07 452.50,136.93 452.70,136.80 452.90,136.68 453.10,136.57 453.30,136.46 453.50,136.36 453.70,136.25 453.90,136.15 454.10,136.06 454.30,135.97 454.50,135.90 454.70,135.82 454.90,135.75 455.10,135.67 455.30,135.59 455.50,135.50 455.70,135.40 455.90,135.29 456.10,135.15 456.30,135.00 456.50,134.80 456.70,134.53 456.90,134.20 457.10,133.79 457.30,133.32 457.50,132.79 457.70,132.17 457.90,131.31 458.10,130.19 458.30,128.80 458.50,127.02 458.70,124.30 458.90,120.86 459.10,116.99 459.30,112.87 459.50,107.90 459.70,102.26 459.90,96.30 460.10,90.37 460.30,84.82 460.50,80.00 460.70,76.00 460.90,72.45 461.10,69.01 461.30,65.33 461.50,61.04 461.70,55.94 461.90,50.73 462.10,46.20 462.30,42.41 462.50,38.95 462.70,35.83 462.90,33.10 463.10,30.41 463.30,27.70 463.50,25.44 463.70,24.09 463.90,24.10 464.10,25.52 464.30,27.85 464.50,30.55 464.70,33.10 464.90,35.45 465.10,37.94 465.30,40.55 465.50,43.31 465.70,46.20 465.90,49.19 466.10,52.28 466.30,55.59 466.50,59.23 466.70,63.30 466.90,68.50 467.10,74.53 467.30,80.00 467.50,84.59 467.70,88.89 467.90,92.91 468.10,96.61 468.30,100.00 468.50,103.19 468.70,106.28 468.90,109.18 469.10,111.82 469.30,114.12 469.50,116.00 469.70,117.57 469.90,118.97 470.10,120.16 470.30,121.12 470.50,121.83 470.70,122.42 470.90,122.94 471.10,123.39 471.30,123.80 471.50,124.18 471.70,124.54 471.90,124.91 472.10,125.29 472.30,125.71 472.50,126.12 472.70,126.52 472.90,126.92 473.10,127.31 473.30,127.70 473.50,128.09 473.70,128.49 473.90,128.89 474.10,129.29 474.30,129.71 474.50,130.13 474.70,130.56 474.90,131.00 475.10,131.44 475.30,131.88 475.50,132.32 475.70,132.77 475.90,133.21 476.10,133.64 476.30,134.07 476.50,134.50 476.70,134.93 476.90,135.38 477.10,135.84 477.30,136.29 477.50,136.75 477.70,137.19 477.90,137.62 478.10,138.02 478.30,138.39 478.50,138.72 478.70,139.00 478.90,139.25 479.10,139.50 479.30,139.73 479.50,139.95 479.70,140.16 479.90,140.36 480.10,140.55 480.30,140.72 480.50,140.89 480.70,141.05 480.90,141.20 481.10,141.34 481.30,141.48 481.50,141.60 481.70,141.72 481.90,141.83 482.10,141.94 482.30,142.04 482.50,142.14 482.70,142.23 482.90,142.32 483.10,142.41 483.30,142.49 483.50,142.57 483.70,142.65 483.90,142.73 484.10,142.80 484.30,142.87 484.50,142.94 484.70,143.00 484.90,143.07 485.10,143.13 485.30,143.19 485.50,143.26 485.70,143.32 485.90,143.38 486.10,143.44 486.30,143.50 486.50,143.56 486.70,143.62 486.90,143.68 487.10,143.74 487.30,143.79 487.50,143.84 487.70,143.89 487.90,143.94 488.10,143.99 488.30,144.04 488.50,144.08 488.70,144.12 488.90,144.15 489.10,144.19 489.30,144.22 489.50,144.25 489.70,144.27 489.90,144.29 490.10,144.31 490.30,144.32 490.50,144.34 490.70,144.36 490.90,144.37 491.10,144.39 491.30,144.40 491.50,144.41 491.70,144.43 491.90,144.44 492.10,144.45 492.30,144.46 492.50,144.47 492.70,144.48 492.90,144.49 493.10,144.50 493.30,144.51 493.50,144.52 493.70,144.53 493.90,144.54 494.10,144.55 494.30,144.55 494.50,144.56 494.70,144.57 494.90,144.57 495.10,144.58 495.30,144.58 495.50,144.59 495.70,144.59 495.90,144.60 496.10,144.60 496.30,144.61 496.50,144.61 496.70,144.61 496.90,144.62 497.10,144.62 497.30,144.62 497.50,144.63 497.70,144.63 497.90,144.63 498.10,144.64 498.30,144.64 498.50,144.64 498.70,144.65 498.90,144.65 499.10,144.65 499.30,144.66 499.50,144.66 499.70,144.66 499.90,144.66 500.10,144.67 500.30,144.67 500.50,144.67 500.70,144.67 500.90,144.68 501.10,144.68 501.30,144.68 501.50,144.68 501.70,144.68 501.90,144.69 502.10,144.69 502.30,144.69 502.50,144.69 502.70,144.69 502.90,144.69 503.10,144.69 503.30,144.70 503.50,144.70 503.70,144.70 503.90,144.70 504.10,144.70 504.30,144.70 504.50,144.70 504.70,144.70 504.90,144.70 505.10,144.70 505.30,144.70 505.50,144.70 505.70,144.70 505.90,144.70 506.10,144.70 506.30,144.70 506.50,144.70 506.70,144.70 506.90,144.70 507.10,144.70 507.30,144.70 507.50,144.70 507.70,144.70 507.90,144.70 508.10,144.70 508.30,144.70 508.50,144.70 508.70,144.70 508.90,144.70 509.10,144.70 509.30,144.70 509.50,144.70 509.70,144.70 509.90,144.70 510.10,144.70 510.30,144.70 510.50,144.70 510.70,144.70 510.90,144.70 511.10,144.70 511.30,144.70 511.50,144.70 511.70,144.70 511.90,144.70 512.10,144.70 512.30,144.70 512.50,144.70 512.70,144.70 512.90,144.70 513.10,144.70 513.30,144.70 513.50,144.70 513.70,144.70 513.90,144.70 514.10,144.70 514.30,144.70 514.50,144.70 514.70,144.70 514.90,144.70 515.10,144.70 515.30,144.70 515.50,144.70 515.70,144.70 515.90,144.70 516.10,144.70 516.30,144.70 516.50,144.70 516.70,144.70 516.90,144.70 517.10,144.70 517.30,144.70 517.50,144.70 517.70,144.70 517.90,144.70 518.10,144.70" fill="none" stroke="#000" stroke-width="0.6" stroke-linejoin="round"/>
<text transform="translate(366.2,32.5) rotate(-90)" font-size="8.4" text-anchor="end" fill="#000" stroke="#000" stroke-width="0.22">6795</text>
<text transform="translate(467.1,5.2) rotate(-90)" font-size="8.4" text-anchor="end" fill="#000" stroke="#000" stroke-width="0.22">8302</text>
<rect x="34.7" y="173.5" width="216.30" height="144.70" fill="none" stroke="#9a9a9a" stroke-width="0.9"/>
<line x1="32.7" y1="317.2" x2="34.7" y2="317.2" stroke="#9a9a9a" stroke-width="0.8"/>
<text x="31.700000000000003" y="320.10" font-size="8.3" text-anchor="end" fill="#000" stroke="#000" stroke-width="0.22">0</text>
<line x1="32.7" y1="292.9" x2="34.7" y2="292.9" stroke="#9a9a9a" stroke-width="0.8"/>
<text x="31.700000000000003" y="295.80" font-size="8.3" text-anchor="end" fill="#000" stroke="#000" stroke-width="0.22">250</text>
<line x1="32.7" y1="268.6" x2="34.7" y2="268.6" stroke="#9a9a9a" stroke-width="0.8"/>
<text x="31.700000000000003" y="271.50" font-size="8.3" text-anchor="end" fill="#000" stroke="#000" stroke-width="0.22">500</text>
<line x1="32.7" y1="244.3" x2="34.7" y2="244.3" stroke="#9a9a9a" stroke-width="0.8"/>
<text x="31.700000000000003" y="247.20" font-size="8.3" text-anchor="end" fill="#000" stroke="#000" stroke-width="0.22">750</text>
<line x1="32.7" y1="220.0" x2="34.7" y2="220.0" stroke="#9a9a9a" stroke-width="0.8"/>
<text x="31.700000000000003" y="222.90" font-size="8.3" text-anchor="end" fill="#000" stroke="#000" stroke-width="0.22">1000</text>
<line x1="32.7" y1="195.7" x2="34.7" y2="195.7" stroke="#9a9a9a" stroke-width="0.8"/>
<text x="31.700000000000003" y="198.60" font-size="8.3" text-anchor="end" fill="#000" stroke="#000" stroke-width="0.22">1250</text>
<line x1="42.00" y1="318.2" x2="42.00" y2="320.2" stroke="#9a9a9a" stroke-width="0.8"/>
<text x="42.00" y="328.9" font-size="8.3" text-anchor="middle" fill="#000" stroke="#000" stroke-width="0.22">6000</text>
<line x1="75.47" y1="318.2" x2="75.47" y2="320.2" stroke="#9a9a9a" stroke-width="0.8"/>
<text x="75.47" y="328.9" font-size="8.3" text-anchor="middle" fill="#000" stroke="#000" stroke-width="0.22">6500</text>
<line x1="108.95" y1="318.2" x2="108.95" y2="320.2" stroke="#9a9a9a" stroke-width="0.8"/>
<text x="108.95" y="328.9" font-size="8.3" text-anchor="middle" fill="#000" stroke="#000" stroke-width="0.22">7000</text>
<line x1="142.43" y1="318.2" x2="142.43" y2="320.2" stroke="#9a9a9a" stroke-width="0.8"/>
<text x="142.43" y="328.9" font-size="8.3" text-anchor="middle" fill="#000" stroke="#000" stroke-width="0.22">7500</text>
<line x1="175.90" y1="318.2" x2="175.90" y2="320.2" stroke="#9a9a9a" stroke-width="0.8"/>
<text x="175.90" y="328.9" font-size="8.3" text-anchor="middle" fill="#000" stroke="#000" stroke-width="0.22">8000</text>
<line x1="209.38" y1="318.2" x2="209.38" y2="320.2" stroke="#9a9a9a" stroke-width="0.8"/>
<text x="209.38" y="328.9" font-size="8.3" text-anchor="middle" fill="#000" stroke="#000" stroke-width="0.22">8500</text>
<line x1="242.85" y1="318.2" x2="242.85" y2="320.2" stroke="#9a9a9a" stroke-width="0.8"/>
<text x="242.85" y="328.9" font-size="8.3" text-anchor="middle" fill="#000" stroke="#000" stroke-width="0.22">9000</text>
<text x="36.900000000000006" y="181.90" font-size="8.2" fill="#000" stroke="#000" stroke-width="0.22">FRETS-VWF73</text>
<text x="36.900000000000006" y="190.80" font-size="8.2" fill="#000" stroke="#000" stroke-width="0.22">cleaved by NPP+activated neutrophils</text>
<text x="1.9" y="184.7" font-size="19" font-weight="bold" fill="#000" stroke="#000" stroke-width="0.35">C</text>
<text transform="translate(6.8,245.0) rotate(-90)" font-size="8.2" text-anchor="middle" fill="#000" stroke="#000" stroke-width="0.22">Intens. [a.u.]</text>
<text x="142.3" y="340.7" font-size="8.2" text-anchor="middle" fill="#000" stroke="#000" stroke-width="0.22">m/z</text>
<polygon points="99.6,228 100.2,212 100.9,208 101.6,214 102.5,224 102.9,240 103.1,252 99.4,252 99.3,240" fill="#d4d4d4"/>
<polyline points="35.20,316.45 35.30,311.75 35.40,314.79 35.50,313.77 35.60,313.87 35.70,314.09 35.80,312.23 35.90,314.01 36.00,313.33 36.10,317.53 36.20,314.34 36.30,313.71 36.40,313.73 36.50,313.28 36.60,312.83 36.70,313.44 36.80,314.26 36.90,313.48 37.00,314.62 37.10,313.41 37.20,313.58 37.30,315.05 37.40,314.00 37.50,312.91 37.60,313.19 37.70,313.87 37.80,315.23 37.90,313.00 38.00,313.00 38.10,314.22 38.20,312.33 38.30,312.91 38.40,314.06 38.50,313.76 38.60,313.27 38.70,313.84 38.80,310.38 38.90,314.20 39.00,312.24 39.10,311.55 39.20,313.48 39.30,313.91 39.40,312.78 39.50,312.16 39.60,313.26 39.70,313.19 39.80,314.63 39.90,313.99 40.00,313.44 40.10,314.35 40.20,313.06 40.30,312.35 40.40,313.84 40.50,313.85 40.60,313.06 40.70,312.51 40.80,313.52 40.90,310.83 41.00,314.00 41.10,313.81 41.20,311.71 41.30,313.42 41.40,312.42 41.50,314.15 41.60,311.39 41.70,312.53 41.80,314.18 41.90,314.65 42.00,311.37 42.10,313.05 42.20,313.91 42.30,313.00 42.40,315.24 42.50,312.47 42.60,314.05 42.70,312.66 42.80,315.15 42.90,313.73 43.00,313.40 43.10,312.05 43.20,315.50 43.30,314.57 43.40,314.57 43.50,314.97 43.60,314.16 43.70,313.14 43.80,312.96 43.90,312.94 44.00,315.13 44.10,312.21 44.20,313.06 44.30,313.30 44.40,313.81 44.50,314.12 44.60,312.20 44.70,311.66 44.80,313.37 44.90,314.55 45.00,314.02 45.10,313.41 45.20,312.80 45.30,313.37 45.40,312.76 45.50,313.80 45.60,312.10 45.70,313.00 45.80,312.71 45.90,313.35 46.00,312.99 46.10,315.34 46.20,314.25 46.30,314.23 46.40,310.63 46.50,312.36 46.60,312.09 46.70,313.26 46.80,310.43 46.90,313.93 47.00,313.84 47.10,311.48 47.20,311.82 47.30,312.02 47.40,312.89 47.50,313.51 47.60,314.94 47.70,312.71 47.80,313.69 47.90,313.10 48.00,314.70 48.10,313.70 48.20,314.32 48.30,311.91 48.40,312.79 48.50,312.18 48.60,314.46 48.70,313.63 48.80,312.68 48.90,312.54 49.00,313.45 49.10,312.29 49.20,312.07 49.30,313.44 49.40,315.35 49.50,312.73 49.60,312.44 49.70,311.85 49.80,311.70 49.90,313.50 50.00,313.82 50.10,313.02 50.20,313.34 50.30,313.15 50.40,313.19 50.50,311.61 50.60,312.65 50.70,313.21 50.80,312.37 50.90,312.68 51.00,312.36 51.10,312.83 51.20,313.97 51.30,312.78 51.40,313.02 51.50,313.94 51.60,313.78 51.70,314.77 51.80,311.17 51.90,313.96 52.00,312.67 52.10,313.24 52.20,313.89 52.30,314.10 52.40,314.04 52.50,313.17 52.60,314.55 52.70,312.71 52.80,312.83 52.90,313.73 53.00,312.40 53.10,315.03 53.20,313.91 53.30,315.04 53.40,312.88 53.50,312.53 53.60,313.08 53.70,313.64 53.80,312.34 53.90,313.31 54.00,312.93 54.10,314.59 54.20,312.31 54.30,314.05 54.40,312.37 54.50,312.06 54.60,312.33 54.70,311.86 54.80,313.24 54.90,314.17 55.00,313.30 55.10,313.79 55.20,314.84 55.30,313.45 55.40,313.38 55.50,312.90 55.60,311.52 55.70,313.98 55.80,311.36 55.90,313.86 56.00,313.15 56.10,314.33 56.20,313.07 56.30,312.26 56.40,313.48 56.50,312.49 56.60,312.86 56.70,313.07 56.80,312.86 56.90,312.77 57.00,312.06 57.10,312.71 57.20,310.60 57.30,312.68 57.40,311.54 57.50,313.98 57.60,314.11 57.70,310.64 57.80,312.85 57.90,312.53 58.00,311.52 58.10,313.19 58.20,312.10 58.30,310.66 58.40,312.26 58.50,312.37 58.60,312.62 58.70,311.15 58.80,313.13 58.90,313.24 59.00,311.17 59.10,311.68 59.20,312.28 59.30,311.73 59.40,314.23 59.50,312.52 59.60,311.16 59.70,311.37 59.80,312.14 59.90,314.71 60.00,311.95 60.10,312.25 60.20,312.64 60.30,311.99 60.40,314.53 60.50,311.37 60.60,312.75 60.70,312.06 60.80,312.54 60.90,310.50 61.00,313.75 61.10,311.60 61.20,311.74 61.30,310.62 61.40,310.82 61.50,312.24 61.60,312.69 61.70,312.40 61.80,312.90 61.90,312.32 62.00,311.52 62.10,312.42 62.20,312.13 62.30,311.33 62.40,312.26 62.50,312.89 62.60,311.69 62.70,311.02 62.80,312.24 62.90,313.60 63.00,311.19 63.10,311.33 63.20,311.29 63.30,312.86 63.40,309.35 63.50,311.89 63.60,312.86 63.70,310.55 63.80,313.23 63.90,312.13 64.00,310.88 64.10,311.76 64.20,309.74 64.30,310.86 64.40,313.66 64.50,310.46 64.60,313.67 64.70,311.39 64.80,312.65 64.90,311.50 65.00,308.76 65.10,310.72 65.20,311.60 65.30,309.96 65.40,309.69 65.50,311.72 65.60,310.45 65.70,309.14 65.80,310.32 65.90,312.17 66.00,310.49 66.10,312.18 66.20,312.87 66.30,310.98 66.40,309.48 66.50,309.22 66.60,310.76 66.70,311.86 66.80,311.04 66.90,311.34 67.00,310.03 67.10,310.93 67.20,309.89 67.30,310.03 67.40,308.72 67.50,308.30 67.60,309.67 67.70,308.80 67.80,308.94 67.90,311.04 68.00,309.96 68.10,313.92 68.20,311.22 68.30,309.08 68.40,310.91 68.50,310.28 68.60,308.79 68.70,311.15 68.80,308.49 68.90,305.22 69.00,310.46 69.10,308.38 69.20,311.22 69.30,308.07 69.40,307.16 69.50,310.93 69.60,306.94 69.70,308.60 69.80,310.22 69.90,307.96 70.00,307.36 70.10,307.31 70.20,308.11 70.30,305.08 70.40,306.94 70.50,306.44 70.60,308.95 70.70,303.69 70.80,302.32 70.90,303.54 71.00,299.98 71.10,299.86 71.20,297.94 71.30,298.57 71.40,293.34 71.50,292.35 71.60,289.52 71.70,287.32 71.80,289.41 71.90,282.72 72.00,280.46 72.10,277.80 72.20,277.04 72.30,273.44 72.40,270.37 72.50,272.90 72.60,273.85 72.70,277.83 72.80,278.30 72.90,285.70 73.00,284.81 73.10,285.68 73.20,286.89 73.30,289.18 73.40,293.27 73.50,292.20 73.60,296.30 73.70,296.14 73.80,298.70 73.90,298.34 74.00,297.17 74.10,297.01 74.20,299.31 74.30,300.96 74.40,300.17 74.50,301.51 74.60,299.86 74.70,300.50 74.80,300.69 74.90,304.76 75.00,302.74 75.10,301.83 75.20,302.10 75.30,303.11 75.40,306.37 75.50,304.81 75.60,303.22 75.70,307.02 75.80,307.21 75.90,306.60 76.00,306.44 76.10,307.23 76.20,306.32 76.30,306.84 76.40,304.33 76.50,308.26 76.60,306.23 76.70,309.29 76.80,302.70 76.90,307.30 77.00,307.85 77.10,305.81 77.20,307.18 77.30,307.74 77.40,307.55 77.50,305.87 77.60,306.57 77.70,308.45 77.80,308.89 77.90,307.09 78.00,307.07 78.10,307.26 78.20,308.54 78.30,305.22 78.40,304.71 78.50,306.90 78.60,304.83 78.70,305.52 78.80,306.46 78.90,306.95 79.00,304.22 79.10,307.14 79.20,302.64 79.30,306.34 79.40,302.51 79.50,302.79 79.60,305.91 79.70,303.86 79.80,303.36 79.90,303.34 80.00,304.78 80.10,303.62 80.20,303.44 80.30,305.22 80.40,302.00 80.50,301.83 80.60,301.44 80.70,304.41 80.80,303.77 80.90,304.05 81.00,301.07 81.10,300.45 81.20,302.14 81.30,299.17 81.40,301.32 81.50,300.67 81.60,297.66 81.70,297.99 81.80,297.38 81.90,300.90 82.00,302.20 82.10,295.67 82.20,295.27 82.30,293.56 82.40,294.32 82.50,293.10 82.60,291.34 82.70,293.27 82.80,289.71 82.90,289.37 83.00,289.26 83.10,287.02 83.20,288.95 83.30,288.35 83.40,283.87 83.50,282.60 83.60,283.56 83.70,280.73 83.80,278.30 83.90,277.11 84.00,275.95 84.10,274.29 84.20,274.84 84.30,272.31 84.40,273.83 84.50,271.42 84.60,268.28 84.70,267.43 84.80,266.08 84.90,262.62 85.00,257.70 85.10,257.58 85.20,252.04 85.30,251.14 85.40,243.33 85.50,239.97 85.60,235.70 85.70,234.84 85.80,227.36 85.90,222.33 86.00,220.13 86.10,216.06 86.20,216.46 86.30,217.29 86.40,221.09 86.50,229.17 86.60,229.06 86.70,234.90 86.80,239.71 86.90,247.85 87.00,251.55 87.10,256.76 87.20,262.27 87.30,267.64 87.40,268.62 87.50,268.51 87.60,269.03 87.70,271.52 87.80,273.89 87.90,271.82 88.00,272.09 88.10,273.48 88.20,272.56 88.30,274.08 88.40,275.47 88.50,278.02 88.60,278.56 88.70,278.91 88.80,283.77 88.90,286.45 89.00,283.54 89.10,286.31 89.20,287.18 89.30,289.26 89.40,287.32 89.50,292.62 89.60,288.79 89.70,293.26 89.80,291.30 89.90,290.89 90.00,292.02 90.10,294.86 90.20,292.42 90.30,293.10 90.40,293.40 90.50,293.85 90.60,298.13 90.70,296.95 90.80,296.01 90.90,298.97 91.00,295.76 91.10,296.92 91.20,301.18 91.30,299.83 91.40,296.96 91.50,297.23 91.60,297.49 91.70,301.01 91.80,297.98 91.90,298.75 92.00,300.72 92.10,298.67 92.20,300.35 92.30,301.78 92.40,301.35 92.50,301.43 92.60,299.85 92.70,302.10 92.80,300.40 92.90,304.03 93.00,306.68 93.10,300.72 93.20,300.81 93.30,301.04 93.40,302.64 93.50,303.94 93.60,303.92 93.70,300.66 93.80,300.48 93.90,303.81 94.00,300.04 94.10,303.00 94.20,300.05 94.30,301.83 94.40,301.46 94.50,301.36 94.60,301.20 94.70,298.16 94.80,299.48 94.90,298.52 95.00,298.81 95.10,300.47 95.20,296.79 95.30,296.02 95.40,295.67 95.50,295.65 95.60,297.68 95.70,294.73 95.80,297.99 95.90,295.81 96.00,294.40 96.10,293.63 96.20,294.90 96.30,295.60 96.40,292.80 96.50,296.12 96.60,296.81 96.70,293.59 96.80,293.57 96.90,297.41 97.00,294.39 97.10,290.22 97.20,290.69 97.30,289.83 97.40,289.26 97.50,287.95 97.60,289.93 97.70,286.53 97.80,287.11 97.90,285.61 98.00,286.94 98.10,283.39 98.20,281.92 98.30,282.83 98.40,283.33 98.50,277.96 98.60,279.92 98.70,275.50 98.80,271.61 98.90,273.24 99.00,265.64 99.10,265.04 99.20,255.84 99.30,249.97 99.40,240.75 99.50,234.61 99.60,232.30 99.70,226.11 99.80,223.09 99.90,219.96 100.00,219.63 100.10,214.96 100.20,212.02 100.30,209.26 100.40,203.19 100.50,197.02 100.60,194.91 100.70,198.30 100.80,205.33 100.90,215.20 101.00,216.99 101.10,220.35 101.20,219.65 101.30,219.50 101.40,219.29 101.50,219.03 101.60,218.20 101.70,217.70 101.80,220.17 101.90,222.33 102.00,221.62 102.10,219.59 102.20,223.04 102.30,222.50 102.40,227.64 102.50,229.04 102.60,235.23 102.70,243.16 102.80,243.99 102.90,251.98 103.00,251.89 103.10,255.12 103.20,262.92 103.30,267.30 103.40,265.32 103.50,268.91 103.60,269.97 103.70,272.74 103.80,277.52 103.90,278.18 104.00,280.40 104.10,283.17 104.20,286.98 104.30,289.31 104.40,290.11 104.50,290.48 104.60,289.93 104.70,295.70 104.80,292.51 104.90,293.04 105.00,295.61 105.10,293.58 105.20,294.99 105.30,295.38 105.40,297.02 105.50,299.68 105.60,298.24 105.70,296.65 105.80,297.33 105.90,298.90 106.00,299.10 106.10,298.07 106.20,298.29 106.30,300.63 106.40,300.29 106.50,299.55 106.60,298.54 106.70,303.18 106.80,298.17 106.90,298.09 107.00,303.08 107.10,297.77 107.20,298.19 107.30,296.22 107.40,299.73 107.50,295.26 107.60,296.34 107.70,295.59 107.80,293.76 107.90,296.13 108.00,292.55 108.10,291.87 108.20,292.07 108.30,290.44 108.40,291.53 108.50,291.63 108.60,287.99 108.70,286.56 108.80,285.31 108.90,284.11 109.00,285.16 109.10,281.23 109.20,280.82 109.30,277.83 109.40,274.91 109.50,275.39 109.60,269.82 109.70,267.98 109.80,268.26 109.90,260.72 110.00,257.95 110.10,253.22 110.20,249.32 110.30,245.53 110.40,242.22 110.50,238.28 110.60,235.50 110.70,234.95 110.80,229.35 110.90,229.13 111.00,228.35 111.10,229.97 111.20,232.41 111.30,235.75 111.40,240.30 111.50,246.75 111.60,247.02 111.70,247.90 111.80,255.50 111.90,253.85 112.00,256.62 112.10,259.22 112.20,261.61 112.30,264.32 112.40,271.42 112.50,268.68 112.60,270.22 112.70,272.30 112.80,274.86 112.90,276.37 113.00,279.62 113.10,282.83 113.20,283.89 113.30,286.44 113.40,286.12 113.50,288.08 113.60,293.74 113.70,294.93 113.80,292.82 113.90,295.36 114.00,295.99 114.10,298.10 114.20,298.27 114.30,297.68 114.40,299.90 114.50,300.57 114.60,300.86 114.70,300.63 114.80,301.25 114.90,301.83 115.00,302.37 115.10,304.33 115.20,305.62 115.30,305.24 115.40,304.56 115.50,305.74 115.60,307.99 115.70,305.23 115.80,308.31 115.90,308.31 116.00,307.95 116.10,310.11 116.20,307.11 116.30,309.91 116.40,307.42 116.50,307.94 116.60,307.78 116.70,310.14 116.80,308.39 116.90,309.95 117.00,308.46 117.10,311.63 117.20,312.81 117.30,310.77 117.40,312.79 117.50,311.47 117.60,313.71 117.70,311.10 117.80,309.04 117.90,313.11 118.00,311.12 118.10,310.05 118.20,310.62 118.30,309.48 118.40,311.38 118.50,310.32 118.60,313.53 118.70,312.56 118.80,309.77 118.90,309.99 119.00,311.17 119.10,309.56 119.20,311.76 119.30,311.85 119.40,311.00 119.50,311.27 119.60,312.50 119.70,313.57 119.80,313.65 119.90,311.96 120.00,312.90 120.10,311.07 120.20,312.38 120.30,310.82 120.40,312.72 120.50,310.51 120.60,310.82 120.70,311.89 120.80,312.51 120.90,310.32 121.00,311.32 121.10,312.06 121.20,312.17 121.30,311.02 121.40,312.05 121.50,311.68 121.60,313.48 121.70,312.60 121.80,310.63 121.90,309.74 122.00,312.19 122.10,313.36 122.20,312.34 122.30,313.11 122.40,311.75 122.50,310.90 122.60,313.11 122.70,312.50 122.80,313.15 122.90,311.12 123.00,312.76 123.10,312.01 123.20,313.51 123.30,312.20 123.40,312.24 123.50,312.33 123.60,314.21 123.70,313.07 123.80,312.37 123.90,312.19 124.00,312.64 124.10,314.14 124.20,312.33 124.30,312.94 124.40,313.84 124.50,314.20 124.60,313.51 124.70,314.08 124.80,314.11 124.90,314.28 125.00,313.81 125.10,314.73 125.20,313.98 125.30,314.75 125.40,313.35 125.50,314.50 125.60,313.35 125.70,313.26 125.80,314.37 125.90,313.69 126.00,314.41 126.10,313.64 126.20,315.09 126.30,314.28 126.40,313.72 126.50,314.44 126.60,314.84 126.70,314.01 126.80,314.71 126.90,315.53 127.00,314.95 127.10,314.53 127.20,314.27 127.30,314.88 127.40,313.83 127.50,313.08 127.60,314.31 127.70,314.12 127.80,315.57 127.90,314.78 128.00,314.23 128.10,314.16 128.20,315.00 128.30,314.35 128.40,314.49 128.50,314.74 128.60,314.84 128.70,314.85 128.80,314.87 128.90,315.46 129.00,315.67 129.10,314.03 129.20,316.10 129.30,314.92 129.40,315.47 129.50,314.51 129.60,315.03 129.70,314.99 129.80,314.95 129.90,315.31 130.00,315.21 130.10,314.43 130.20,314.87 130.30,315.28 130.40,315.27 130.50,314.79 130.60,314.82 130.70,314.89 130.80,314.44 130.90,314.36 131.00,315.74 131.10,314.80 131.20,315.04 131.30,314.63 131.40,315.62 131.50,315.84 131.60,314.89 131.70,315.25 131.80,314.64 131.90,315.85 132.00,315.44 132.10,314.60 132.20,315.60 132.30,315.17 132.40,315.20 132.50,315.17 132.60,314.68 132.70,314.75 132.80,315.31 132.90,314.99 133.00,314.56 133.10,316.00 133.20,314.93 133.30,314.77 133.40,314.71 133.50,315.38 133.60,315.52 133.70,315.17 133.80,315.48 133.90,314.35 134.00,314.89 134.10,314.85 134.20,315.08 134.30,315.32 134.40,314.11 134.50,316.59 134.60,314.68 134.70,315.27 134.80,315.50 134.90,315.52 135.00,315.23 135.10,313.73 135.20,314.62 135.30,315.52 135.40,314.72 135.50,314.67 135.60,314.07 135.70,315.80 135.80,315.49 135.90,314.84 136.00,315.23 136.10,315.28 136.20,314.82 136.30,315.26 136.40,315.54 136.50,315.72 136.60,316.10 136.70,315.54 136.80,315.33 136.90,315.78 137.00,315.32 137.10,315.04 137.20,316.22 137.30,315.51 137.40,315.77 137.50,316.04 137.60,315.20 137.70,316.05 137.80,315.96 137.90,315.69 138.00,315.92 138.10,315.36 138.20,314.64 138.30,315.54 138.40,315.22 138.50,316.04 138.60,315.72 138.70,315.30 138.80,315.54 138.90,316.12 139.00,315.97 139.10,315.56 139.20,315.54 139.30,315.15 139.40,315.17 139.50,315.46 139.60,315.07 139.70,315.22 139.80,314.50 139.90,314.18 140.00,314.12 140.10,314.68 140.20,315.49 140.30,315.38 140.40,314.30 140.50,314.00 140.60,315.10 140.70,314.92 140.80,314.02 140.90,315.17 141.00,314.73 141.10,315.27 141.20,314.79 141.30,315.05 141.40,314.78 141.50,314.17 141.60,314.52 141.70,314.32 141.80,315.05 141.90,314.19 142.00,313.95 142.10,315.03 142.20,315.27 142.30,315.43 142.40,315.28 142.50,314.05 142.60,314.46 142.70,314.56 142.80,314.83 142.90,313.83 143.00,314.88 143.10,315.04 143.20,314.48 143.30,315.01 143.40,315.55 143.50,315.03 143.60,315.53 143.70,315.54 143.80,315.27 143.90,315.28 144.00,314.93 144.10,315.73 144.20,314.93 144.30,314.84 144.40,315.53 144.50,314.86 144.60,315.44 144.70,315.76 144.80,315.31 144.90,315.34 145.00,315.75 145.10,315.70 145.20,314.62 145.30,314.75 145.40,316.04 145.50,315.61 145.60,314.44 145.70,314.82 145.80,315.49 145.90,315.03 146.00,315.74 146.10,315.57 146.20,315.78 146.30,315.00 146.40,315.87 146.50,316.52 146.60,315.20 146.70,316.21 146.80,316.05 146.90,315.88 147.00,315.54 147.10,315.00 147.20,315.13 147.30,315.91 147.40,316.00 147.50,316.11 147.60,315.97 147.70,315.92 147.80,315.27 147.90,314.88 148.00,315.55 148.10,315.67 148.20,315.46 148.30,314.67 148.40,315.13 148.50,314.65 148.60,315.41 148.70,314.81 148.80,315.21 148.90,315.42 149.00,315.30 149.10,315.85 149.20,314.63 149.30,314.07 149.40,315.53 149.50,315.71 149.60,315.68 149.70,315.08 149.80,315.15 149.90,314.90 150.00,314.17 150.10,314.46 150.20,314.92 150.30,314.36 150.40,315.50 150.50,313.80 150.60,314.29 150.70,314.99 150.80,314.13 150.90,313.85 151.00,313.72 151.10,314.00 151.20,315.05 151.30,314.51 151.40,314.56 151.50,314.06 151.60,314.71 151.70,314.37 151.80,313.88 151.90,314.12 152.00,314.46 152.10,314.94 152.20,314.38 152.30,314.67 152.40,315.43 152.50,314.11 152.60,313.93 152.70,315.03 152.80,314.80 152.90,314.58 153.00,314.79 153.10,314.54 153.20,314.98 153.30,314.61 153.40,315.20 153.50,314.29 153.60,314.50 153.70,314.98 153.80,314.74 153.90,315.34 154.00,315.02 154.10,314.81 154.20,315.21 154.30,314.89 154.40,314.43 154.50,314.66 154.60,314.85 154.70,315.04 154.80,315.34 154.90,315.75 155.00,315.60 155.10,316.21 155.20,315.98 155.30,315.29 155.40,316.19 155.50,315.97 155.60,315.20 155.70,315.57 155.80,315.96 155.90,315.55 156.00,315.93 156.10,315.64 156.20,315.79 156.30,315.30 156.40,315.64 156.50,315.28 156.60,315.78 156.70,314.65 156.80,315.62 156.90,316.06 157.00,315.74 157.10,315.45 157.20,315.71 157.30,315.04 157.40,315.04 157.50,315.25 157.60,315.34 157.70,315.86 157.80,314.94 157.90,315.83 158.00,314.56 158.10,314.91 158.20,315.24 158.30,315.77 158.40,314.88 158.50,314.11 158.60,315.30 158.70,315.04 158.80,314.49 158.90,314.46 159.00,314.59 159.10,314.93 159.20,315.16 159.30,314.09 159.40,315.87 159.50,314.72 159.60,314.53 159.70,315.00 159.80,314.71 159.90,315.76 160.00,315.16 160.10,314.44 160.20,314.43 160.30,314.38 160.40,314.45 160.50,314.95 160.60,314.32 160.70,315.42 160.80,314.62 160.90,314.60 161.00,315.15 161.10,313.76 161.20,314.28 161.30,315.03 161.40,314.77 161.50,314.78 161.60,315.00 161.70,314.54 161.80,314.77 161.90,314.22 162.00,313.99 162.10,315.52 162.20,314.48 162.30,314.61 162.40,315.64 162.50,315.50 162.60,314.76 162.70,314.78 162.80,315.01 162.90,314.61 163.00,315.36 163.10,315.18 163.20,315.20 163.30,315.52 163.40,315.52 163.50,316.08 163.60,315.94 163.70,314.41 163.80,315.68 163.90,314.73 164.00,314.60 164.10,315.64 164.20,314.98 164.30,315.17 164.40,315.85 164.50,315.02 164.60,314.92 164.70,315.51 164.80,315.95 164.90,315.62 165.00,314.62 165.10,315.05 165.20,315.29 165.30,316.29 165.40,315.80 165.50,315.78 165.60,315.95 165.70,315.23 165.80,315.61 165.90,315.62 166.00,314.92 166.10,315.38 166.20,315.67 166.30,314.89 166.40,315.80 166.50,315.79 166.60,315.93 166.70,315.07 166.80,315.50 166.90,316.16 167.00,315.86 167.10,315.11 167.20,315.60 167.30,316.19 167.40,315.48 167.50,315.71 167.60,316.76 167.70,315.52 167.80,315.49 167.90,315.07 168.00,315.24 168.10,316.28 168.20,315.50 168.30,315.01 168.40,315.13 168.50,315.59 168.60,315.96 168.70,315.24 168.80,315.95 168.90,315.38 169.00,315.79 169.10,315.87 169.20,315.92 169.30,315.43 169.40,315.56 169.50,315.88 169.60,315.02 169.70,315.72 169.80,315.88 169.90,316.13 170.00,315.61 170.10,315.52 170.20,315.67 170.30,315.23 170.40,315.46 170.50,315.73 170.60,315.65 170.70,314.98 170.80,315.29 170.90,314.40 171.00,315.77 171.10,315.09 171.20,315.43 171.30,314.75 171.40,315.21 171.50,315.43 171.60,315.66 171.70,314.51 171.80,315.55 171.90,315.05 172.00,314.74 172.10,315.34 172.20,314.96 172.30,314.96 172.40,314.77 172.50,315.23 172.60,315.15 172.70,315.07 172.80,314.71 172.90,314.95 173.00,315.41 173.10,315.86 173.20,315.26 173.30,315.97 173.40,315.31 173.50,314.82 173.60,315.67 173.70,314.92 173.80,315.59 173.90,315.93 174.00,315.28 174.10,315.40 174.20,316.63 174.30,315.56 174.40,315.58 174.50,315.82 174.60,315.40 174.70,315.39 174.80,315.61 174.90,314.27 175.00,316.08 175.10,314.87 175.20,314.85 175.30,315.60 175.40,315.33 175.50,314.69 175.60,315.37 175.70,314.69 175.80,314.88 175.90,314.46 176.00,314.76 176.10,315.31 176.20,315.15 176.30,315.22 176.40,315.48 176.50,315.00 176.60,314.68 176.70,314.84 176.80,315.75 176.90,314.96 177.00,315.08 177.10,314.87 177.20,315.03 177.30,315.12 177.40,314.90 177.50,314.84 177.60,314.54 177.70,314.52 177.80,315.13 177.90,315.30 178.00,315.40 178.10,315.00 178.20,314.59 178.30,315.31 178.40,315.32 178.50,314.32 178.60,315.44 178.70,315.36 178.80,315.89 178.90,314.57 179.00,314.52 179.10,315.52 179.20,314.30 179.30,314.81 179.40,314.63 179.50,314.66 179.60,314.22 179.70,315.00 179.80,315.56 179.90,315.27 180.00,315.24 180.10,314.81 180.20,315.63 180.30,315.14 180.40,315.34 180.50,314.01 180.60,314.87 180.70,314.05 180.80,314.72 180.90,314.56 181.00,313.79 181.10,314.37 181.20,314.80 181.30,314.34 181.40,314.25 181.50,313.25 181.60,313.15 181.70,312.67 181.80,313.19 181.90,313.63 182.00,312.94 182.10,312.45 182.20,311.50 182.30,312.36 182.40,311.72 182.50,310.41 182.60,310.35 182.70,311.16 182.80,310.60 182.90,312.26 183.00,310.92 183.10,309.37 183.20,309.81 183.30,312.21 183.40,308.57 183.50,310.42 183.60,309.45 183.70,310.36 183.80,308.35 183.90,306.20 184.00,306.93 184.10,305.41 184.20,306.22 184.30,303.57 184.40,306.41 184.50,301.51 184.60,301.50 184.70,298.51 184.80,298.71 184.90,297.47 185.00,296.82 185.10,297.50 185.20,293.57 185.30,292.67 185.40,295.28 185.50,291.46 185.60,290.41 185.70,293.37 185.80,291.94 185.90,288.65 186.00,288.40 186.10,290.64 186.20,290.66 186.30,287.94 186.40,292.75 186.50,288.79 186.60,289.93 186.70,291.37 186.80,291.72 186.90,294.21 187.00,295.52 187.10,294.11 187.20,298.23 187.30,295.06 187.40,296.53 187.50,301.60 187.60,298.88 187.70,301.75 187.80,299.44 187.90,300.58 188.00,301.66 188.10,302.91 188.20,302.59 188.30,303.87 188.40,305.65 188.50,307.15 188.60,305.78 188.70,307.22 188.80,308.12 188.90,305.36 189.00,305.03 189.10,310.32 189.20,310.11 189.30,308.45 189.40,309.11 189.50,307.46 189.60,307.05 189.70,309.65 189.80,307.33 189.90,310.79 190.00,308.77 190.10,310.21 190.20,312.49 190.30,312.50 190.40,309.77 190.50,311.57 190.60,308.94 190.70,309.57 190.80,310.85 190.90,312.19 191.00,309.80 191.10,311.25 191.20,310.77 191.30,309.14 191.40,310.59 191.50,312.63 191.60,310.73 191.70,311.48 191.80,311.90 191.90,309.98 192.00,312.33 192.10,312.58 192.20,312.58 192.30,312.07 192.40,309.59 192.50,309.19 192.60,308.68 192.70,308.25 192.80,308.14 192.90,310.40 193.00,310.86 193.10,307.62 193.20,309.49 193.30,306.17 193.40,307.30 193.50,306.00 193.60,304.73 193.70,307.04 193.80,306.79 193.90,305.73 194.00,305.25 194.10,304.20 194.20,305.31 194.30,304.26 194.40,305.41 194.50,302.69 194.60,304.89 194.70,305.12 194.80,306.14 194.90,305.55 195.00,303.75 195.10,302.12 195.20,301.88 195.30,302.65 195.40,305.11 195.50,305.42 195.60,301.15 195.70,301.06 195.80,301.37 195.90,301.03 196.00,302.47 196.10,302.30 196.20,301.40 196.30,302.50 196.40,301.77 196.50,302.01 196.60,302.27 196.70,305.19 196.80,302.81 196.90,303.71 197.00,305.74 197.10,304.52 197.20,306.27 197.30,303.94 197.40,306.02 197.50,307.02 197.60,309.46 197.70,307.11 197.80,308.47 197.90,306.32 198.00,306.67 198.10,309.24 198.20,307.85 198.30,309.36 198.40,308.43 198.50,310.81 198.60,311.37 198.70,306.64 198.80,310.90 198.90,308.94 199.00,309.19 199.10,308.50 199.20,309.90 199.30,307.47 199.40,308.23 199.50,308.38 199.60,310.04 199.70,311.09 199.80,311.02 199.90,310.70 200.00,309.61 200.10,308.27 200.20,311.24 200.30,311.07 200.40,311.48 200.50,312.94 200.60,311.06 200.70,311.25 200.80,309.83 200.90,312.02 201.00,311.69 201.10,311.31 201.20,312.20 201.30,311.30 201.40,311.74 201.50,313.54 201.60,312.79 201.70,312.99 201.80,312.94 201.90,312.95 202.00,312.72 202.10,314.15 202.20,312.69 202.30,313.28 202.40,312.74 202.50,312.73 202.60,311.51 202.70,311.90 202.80,314.09 202.90,314.12 203.00,313.03 203.10,313.34 203.20,313.79 203.30,312.92 203.40,314.58 203.50,313.04 203.60,313.29 203.70,312.21 203.80,314.65 203.90,313.91 204.00,314.81 204.10,313.44 204.20,314.22 204.30,314.13 204.40,314.24 204.50,315.26 204.60,315.39 204.70,314.97 204.80,314.08 204.90,314.77 205.00,315.03 205.10,314.65 205.20,314.68 205.30,314.66 205.40,313.98 205.50,314.59 205.60,315.29 205.70,314.02 205.80,314.59 205.90,314.99 206.00,313.92 206.10,314.56 206.20,313.82 206.30,314.39 206.40,314.02 206.50,314.30 206.60,314.53 206.70,314.65 206.80,314.71 206.90,313.67 207.00,315.62 207.10,314.74 207.20,314.36 207.30,314.60 207.40,315.06 207.50,314.44 207.60,314.72 207.70,314.70 207.80,315.18 207.90,314.56 208.00,315.13 208.10,315.08 208.20,314.83 208.30,315.48 208.40,314.89 208.50,314.30 208.60,315.00 208.70,314.90 208.80,314.81 208.90,314.93 209.00,315.94 209.10,314.92 209.20,315.02 209.30,314.68 209.40,315.43 209.50,314.78 209.60,314.43 209.70,314.24 209.80,315.09 209.90,315.21 210.00,314.10 210.10,314.54 210.20,315.21 210.30,315.41 210.40,314.31 210.50,314.77 210.60,315.38 210.70,314.74 210.80,314.80 210.90,314.78 211.00,314.43 211.10,315.09 211.20,315.23 211.30,314.42 211.40,315.16 211.50,315.65 211.60,315.22 211.70,315.58 211.80,314.87 211.90,315.80 212.00,314.76 212.10,316.05 212.20,314.93 212.30,314.80 212.40,314.72 212.50,314.95 212.60,314.91 212.70,314.82 212.80,315.00 212.90,315.48 213.00,315.59 213.10,315.01 213.20,315.77 213.30,314.70 213.40,314.69 213.50,314.65 213.60,315.50 213.70,314.48 213.80,314.56 213.90,315.86 214.00,316.09 214.10,315.93 214.20,314.59 214.30,315.33 214.40,315.75 214.50,315.42 214.60,314.62 214.70,315.26 214.80,314.63 214.90,314.88 215.00,316.53 215.10,315.85 215.20,314.85 215.30,314.86 215.40,315.83 215.50,315.34 215.60,315.93 215.70,315.37 215.80,315.60 215.90,315.83 216.00,315.23 216.10,314.82 216.20,315.17 216.30,315.41 216.40,315.65 216.50,315.72 216.60,315.70 216.70,315.97 216.80,315.28 216.90,316.36 217.00,316.63 217.10,315.82 217.20,315.71 217.30,316.19 217.40,315.87 217.50,315.61 217.60,315.40 217.70,315.09 217.80,314.84 217.90,315.68 218.00,315.89 218.10,314.76 218.20,315.19 218.30,315.28 218.40,314.93 218.50,314.72 218.60,314.85 218.70,314.04 218.80,314.91 218.90,314.75 219.00,315.85 219.10,315.23 219.20,314.57 219.30,314.68 219.40,315.45 219.50,315.34 219.60,314.61 219.70,314.41 219.80,313.72 219.90,314.21 220.00,314.24 220.10,313.92 220.20,315.05 220.30,313.28 220.40,314.08 220.50,314.30 220.60,314.28 220.70,314.85 220.80,313.35 220.90,313.64 221.00,314.04 221.10,314.05 221.20,313.79 221.30,313.62 221.40,314.51 221.50,313.50 221.60,313.75 221.70,314.73 221.80,314.90 221.90,314.52 222.00,313.72 222.10,313.76 222.20,313.78 222.30,313.71 222.40,314.10 222.50,314.95 222.60,314.49 222.70,314.06 222.80,314.09 222.90,313.94 223.00,315.13 223.10,313.62 223.20,314.76 223.30,313.97 223.40,314.19 223.50,314.01 223.60,315.22 223.70,314.74 223.80,316.12 223.90,314.33 224.00,314.32 224.10,315.15 224.20,315.15 224.30,314.76 224.40,313.94 224.50,315.61 224.60,315.20 224.70,315.13 224.80,314.67 224.90,315.27 225.00,314.70 225.10,315.00 225.20,314.90 225.30,315.60 225.40,314.78 225.50,314.85 225.60,315.55 225.70,315.14 225.80,315.02 225.90,314.92 226.00,315.50 226.10,314.73 226.20,315.27 226.30,316.02 226.40,315.24 226.50,314.66 226.60,314.46 226.70,315.10 226.80,314.43 226.90,314.24 227.00,314.63 227.10,314.46 227.20,315.39 227.30,314.25 227.40,315.69 227.50,314.55 227.60,314.95 227.70,315.19 227.80,314.95 227.90,315.16 228.00,314.32 228.10,313.67 228.20,314.64 228.30,313.90 228.40,314.40 228.50,315.11 228.60,314.54 228.70,314.32 228.80,314.04 228.90,314.42 229.00,314.47 229.10,313.78 229.20,314.67 229.30,314.01 229.40,314.63 229.50,314.31 229.60,315.01 229.70,314.96 229.80,314.57 229.90,314.54 230.00,314.84 230.10,315.32 230.20,315.21 230.30,314.82 230.40,314.94 230.50,315.59 230.60,314.09 230.70,315.19 230.80,314.54 230.90,315.67 231.00,314.83 231.10,315.05 231.20,314.62 231.30,315.19 231.40,315.59 231.50,316.04 231.60,314.66 231.70,315.07 231.80,317.17 231.90,315.75 232.00,315.30 232.10,315.55 232.20,314.02 232.30,316.06 232.40,315.35 232.50,314.56 232.60,315.79 232.70,314.90 232.80,314.68 232.90,315.40 233.00,315.31 233.10,314.86 233.20,315.01 233.30,314.37 233.40,314.28 233.50,315.37 233.60,315.54 233.70,315.08 233.80,315.02 233.90,314.62 234.00,314.72 234.10,314.30 234.20,315.57 234.30,314.43 234.40,314.88 234.50,314.67 234.60,313.98 234.70,315.58 234.80,314.46 234.90,314.27 235.00,314.70 235.10,314.22 235.20,314.67 235.30,314.21 235.40,314.95 235.50,314.72 235.60,314.05 235.70,315.22 235.80,314.83 235.90,314.23 236.00,314.95 236.10,315.00 236.20,315.71 236.30,314.41 236.40,315.26 236.50,314.81 236.60,315.17 236.70,314.76 236.80,314.86 236.90,315.13 237.00,314.32 237.10,313.88 237.20,314.88 237.30,314.66 237.40,314.91 237.50,315.16 237.60,314.72 237.70,315.39 237.80,314.75 237.90,314.80 238.00,315.13 238.10,314.98 238.20,314.59 238.30,314.65 238.40,314.13 238.50,314.14 238.60,314.45 238.70,314.77 238.80,314.03 238.90,314.66 239.00,315.20 239.10,315.27 239.20,314.04 239.30,314.56 239.40,314.27 239.50,314.33 239.60,314.33 239.70,314.12 239.80,314.28 239.90,313.91 240.00,313.65 240.10,313.96 240.20,314.11 240.30,314.56 240.40,314.10 240.50,314.36 240.60,314.78 240.70,313.50 240.80,313.93 240.90,314.43 241.00,314.20 241.10,313.69 241.20,314.83 241.30,314.31 241.40,313.87 241.50,315.43 241.60,313.82 241.70,314.51 241.80,314.21 241.90,314.63 242.00,314.87 242.10,314.18 242.20,314.55 242.30,314.54 242.40,314.12 242.50,315.19 242.60,314.70 242.70,314.48 242.80,314.29 242.90,314.45 243.00,314.68 243.10,314.38 243.20,315.19 243.30,313.36 243.40,313.54 243.50,314.44 243.60,313.66 243.70,314.50 243.80,314.21 243.90,314.79 244.00,314.70 244.10,315.12 244.20,314.93 244.30,315.09 244.40,314.74 244.50,315.00 244.60,314.73 244.70,314.21 244.80,313.90 244.90,313.93 245.00,314.75 245.10,313.39 245.20,314.64 245.30,314.21 245.40,314.95 245.50,314.72 245.60,314.29 245.70,314.68 245.80,313.60 245.90,314.85 246.00,314.97 246.10,313.89 246.20,315.21 246.30,314.77 246.40,314.93 246.50,314.19 246.60,315.18 246.70,315.19 246.80,314.92 246.90,314.47 247.00,315.33 247.10,315.58 247.20,315.18 247.30,315.48 247.40,314.73 247.50,315.10 247.60,315.21 247.70,315.11 247.80,316.40 247.90,315.25 248.00,314.78 248.10,315.44 248.20,314.52 248.30,315.22 248.40,315.40 248.50,314.79 248.60,314.86 248.70,314.55 248.80,315.05 248.90,314.65 249.00,315.79 249.10,315.25 249.20,314.82 249.30,314.23 249.40,315.87 249.50,315.50 249.60,315.08 249.70,314.94 249.80,314.91 249.90,314.59 250.00,315.70 250.10,314.89 250.20,314.09 250.30,314.46 250.40,313.53 250.50,315.08" fill="none" stroke="#000" stroke-width="0.5" stroke-linejoin="round"/>
<text transform="translate(88.7,196.7) rotate(-90)" font-size="8.4" text-anchor="end" fill="#000" stroke="#000" stroke-width="0.22">6649</text>
<text transform="translate(109.0,195.2) rotate(-90)" font-size="8.4" text-anchor="end" fill="#000" stroke="#000" stroke-width="0.22">6872</text>
<text transform="translate(117.0,209.8) rotate(-90)" font-size="8.4" text-anchor="end" fill="#000" stroke="#000" stroke-width="0.22">7028</text>
<text transform="translate(188.6,268.0) rotate(-90)" font-size="8.4" text-anchor="end" fill="#000" stroke="#000" stroke-width="0.22">8147</text>
<text transform="translate(199.2,279.6) rotate(-90)" font-size="8.4" text-anchor="end" fill="#000" stroke="#000" stroke-width="0.22">8298</text>
<rect x="302.0" y="173.6" width="216.40" height="145.70" fill="none" stroke="#9a9a9a" stroke-width="0.9"/>
<line x1="300.0" y1="318.9" x2="302.0" y2="318.9" stroke="#9a9a9a" stroke-width="0.8"/>
<text x="299.0" y="321.80" font-size="8.3" text-anchor="end" fill="#000" stroke="#000" stroke-width="0.22">0</text>
<line x1="300.0" y1="287.9" x2="302.0" y2="287.9" stroke="#9a9a9a" stroke-width="0.8"/>
<text x="299.0" y="290.80" font-size="8.3" text-anchor="end" fill="#000" stroke="#000" stroke-width="0.22">1000</text>
<line x1="300.0" y1="256.9" x2="302.0" y2="256.9" stroke="#9a9a9a" stroke-width="0.8"/>
<text x="299.0" y="259.80" font-size="8.3" text-anchor="end" fill="#000" stroke="#000" stroke-width="0.22">2000</text>
<line x1="300.0" y1="225.9" x2="302.0" y2="225.9" stroke="#9a9a9a" stroke-width="0.8"/>
<text x="299.0" y="228.80" font-size="8.3" text-anchor="end" fill="#000" stroke="#000" stroke-width="0.22">3000</text>
<line x1="300.0" y1="194.9" x2="302.0" y2="194.9" stroke="#9a9a9a" stroke-width="0.8"/>
<text x="299.0" y="197.80" font-size="8.3" text-anchor="end" fill="#000" stroke="#000" stroke-width="0.22">4000</text>
<line x1="309.75" y1="319.3" x2="309.75" y2="321.3" stroke="#9a9a9a" stroke-width="0.8"/>
<text x="309.75" y="328.5" font-size="8.3" text-anchor="middle" fill="#000" stroke="#000" stroke-width="0.22">6000</text>
<line x1="343.12" y1="319.3" x2="343.12" y2="321.3" stroke="#9a9a9a" stroke-width="0.8"/>
<text x="343.12" y="328.5" font-size="8.3" text-anchor="middle" fill="#000" stroke="#000" stroke-width="0.22">6500</text>
<line x1="376.50" y1="319.3" x2="376.50" y2="321.3" stroke="#9a9a9a" stroke-width="0.8"/>
<text x="376.50" y="328.5" font-size="8.3" text-anchor="middle" fill="#000" stroke="#000" stroke-width="0.22">7000</text>
<line x1="409.88" y1="319.3" x2="409.88" y2="321.3" stroke="#9a9a9a" stroke-width="0.8"/>
<text x="409.88" y="328.5" font-size="8.3" text-anchor="middle" fill="#000" stroke="#000" stroke-width="0.22">7500</text>
<line x1="443.25" y1="319.3" x2="443.25" y2="321.3" stroke="#9a9a9a" stroke-width="0.8"/>
<text x="443.25" y="328.5" font-size="8.3" text-anchor="middle" fill="#000" stroke="#000" stroke-width="0.22">8000</text>
<line x1="476.62" y1="319.3" x2="476.62" y2="321.3" stroke="#9a9a9a" stroke-width="0.8"/>
<text x="476.62" y="328.5" font-size="8.3" text-anchor="middle" fill="#000" stroke="#000" stroke-width="0.22">8500</text>
<line x1="510.00" y1="319.3" x2="510.00" y2="321.3" stroke="#9a9a9a" stroke-width="0.8"/>
<text x="510.00" y="328.5" font-size="8.3" text-anchor="middle" fill="#000" stroke="#000" stroke-width="0.22">9000</text>
<text x="304.2" y="182.00" font-size="8.2" fill="#000" stroke="#000" stroke-width="0.22">FRETS-VWF73</text>
<text x="304.2" y="190.60" font-size="8.2" fill="#000" stroke="#000" stroke-width="0.22">cleaved by TTP plasma+activated neutrophils</text>
<text x="266.3" y="181.7" font-size="19" font-weight="bold" fill="#000" stroke="#000" stroke-width="0.35">D</text>
<text transform="translate(274.6,243.9) rotate(-90)" font-size="8.2" text-anchor="middle" fill="#000" stroke="#000" stroke-width="0.22">Intens. [a.u.]</text>
<text x="409.4" y="340.5" font-size="8.2" text-anchor="middle" fill="#000" stroke="#000" stroke-width="0.22">m/z</text>
<polyline points="302.60,308.53 302.70,309.35 302.80,312.21 302.90,310.80 303.00,307.50 303.10,310.02 303.20,309.22 303.30,310.44 303.40,307.99 303.50,310.76 303.60,310.84 303.70,312.83 303.80,311.12 303.90,311.47 304.00,308.74 304.10,314.04 304.20,308.33 304.30,312.57 304.40,310.67 304.50,309.99 304.60,310.38 304.70,310.44 304.80,311.94 304.90,311.37 305.00,313.55 305.10,309.29 305.20,311.77 305.30,310.72 305.40,312.95 305.50,309.36 305.60,311.71 305.70,312.50 305.80,310.48 305.90,313.63 306.00,312.71 306.10,313.80 306.20,313.81 306.30,311.54 306.40,311.82 306.50,312.59 306.60,313.78 306.70,313.94 306.80,312.12 306.90,312.26 307.00,312.05 307.10,312.30 307.20,312.71 307.30,312.83 307.40,315.41 307.50,312.34 307.60,312.58 307.70,313.44 307.80,311.72 307.90,312.38 308.00,312.80 308.10,313.69 308.20,311.10 308.30,314.33 308.40,312.18 308.50,312.78 308.60,313.57 308.70,313.29 308.80,313.74 308.90,312.60 309.00,312.31 309.10,312.69 309.20,311.01 309.30,313.74 309.40,311.21 309.50,310.57 309.60,314.71 309.70,311.94 309.80,310.62 309.90,314.41 310.00,311.68 310.10,313.43 310.20,311.08 310.30,311.83 310.40,310.08 310.50,309.85 310.60,311.03 310.70,312.17 310.80,313.28 310.90,315.28 311.00,311.19 311.10,313.67 311.20,311.83 311.30,312.43 311.40,310.96 311.50,311.05 311.60,311.94 311.70,311.56 311.80,312.99 311.90,312.29 312.00,314.55 312.10,313.42 312.20,313.52 312.30,314.65 312.40,314.06 312.50,313.54 312.60,313.56 312.70,313.60 312.80,314.93 312.90,314.68 313.00,314.30 313.10,314.80 313.20,313.44 313.30,314.58 313.40,312.64 313.50,315.52 313.60,314.26 313.70,314.39 313.80,314.85 313.90,314.26 314.00,314.04 314.10,315.53 314.20,314.47 314.30,313.46 314.40,314.84 314.50,312.72 314.60,316.10 314.70,314.30 314.80,314.53 314.90,316.74 315.00,316.65 315.10,314.66 315.20,315.17 315.30,315.64 315.40,316.24 315.50,314.48 315.60,314.76 315.70,315.83 315.80,314.92 315.90,315.40 316.00,315.27 316.10,313.60 316.20,313.88 316.30,312.18 316.40,314.48 316.50,316.02 316.60,313.68 316.70,315.93 316.80,315.71 316.90,314.71 317.00,314.76 317.10,314.85 317.20,313.96 317.30,314.51 317.40,314.73 317.50,315.36 317.60,315.52 317.70,314.06 317.80,315.54 317.90,314.00 318.00,314.56 318.10,315.05 318.20,314.65 318.30,314.52 318.40,314.87 318.50,314.04 318.60,313.90 318.70,314.29 318.80,315.39 318.90,314.30 319.00,316.24 319.10,314.52 319.20,311.29 319.30,313.77 319.40,315.84 319.50,314.12 319.60,313.62 319.70,313.12 319.80,315.33 319.90,314.97 320.00,314.59 320.10,314.30 320.20,315.33 320.30,314.66 320.40,312.46 320.50,314.56 320.60,313.90 320.70,313.58 320.80,314.51 320.90,313.70 321.00,310.46 321.10,315.36 321.20,314.78 321.30,313.47 321.40,313.15 321.50,313.79 321.60,312.02 321.70,313.78 321.80,313.11 321.90,312.90 322.00,312.16 322.10,312.37 322.20,314.43 322.30,314.63 322.40,313.55 322.50,312.80 322.60,311.69 322.70,313.58 322.80,314.62 322.90,310.49 323.00,313.92 323.10,309.60 323.20,311.85 323.30,312.70 323.40,310.40 323.50,310.14 323.60,312.28 323.70,313.14 323.80,311.38 323.90,313.69 324.00,310.98 324.10,314.21 324.20,312.15 324.30,312.33 324.40,312.84 324.50,312.51 324.60,314.45 324.70,314.93 324.80,312.96 324.90,312.16 325.00,311.02 325.10,311.62 325.20,312.61 325.30,312.57 325.40,312.72 325.50,312.86 325.60,313.51 325.70,311.47 325.80,311.92 325.90,314.44 326.00,314.17 326.10,312.66 326.20,314.77 326.30,312.56 326.40,313.07 326.50,311.31 326.60,314.37 326.70,313.42 326.80,314.66 326.90,314.27 327.00,313.59 327.10,313.68 327.20,314.86 327.30,313.33 327.40,313.34 327.50,313.59 327.60,314.42 327.70,314.55 327.80,315.67 327.90,313.39 328.00,314.91 328.10,312.71 328.20,314.14 328.30,313.58 328.40,315.40 328.50,314.10 328.60,312.87 328.70,314.04 328.80,313.76 328.90,312.98 329.00,313.00 329.10,312.24 329.20,316.49 329.30,313.47 329.40,314.43 329.50,311.96 329.60,312.04 329.70,313.12 329.80,313.11 329.90,314.19 330.00,312.06 330.10,313.81 330.20,314.90 330.30,311.97 330.40,314.05 330.50,311.73 330.60,313.19 330.70,313.10 330.80,314.66 330.90,311.55 331.00,312.47 331.10,313.43 331.20,310.47 331.30,311.78 331.40,310.50 331.50,310.54 331.60,312.17 331.70,312.03 331.80,314.37 331.90,312.60 332.00,312.32 332.10,310.16 332.20,309.80 332.30,310.24 332.40,306.69 332.50,312.09 332.60,308.63 332.70,307.93 332.80,308.66 332.90,310.48 333.00,310.92 333.10,308.44 333.20,309.56 333.30,308.75 333.40,307.27 333.50,308.95 333.60,308.67 333.70,306.25 333.80,310.18 333.90,306.07 334.00,308.76 334.10,306.75 334.20,307.06 334.30,307.18 334.40,309.31 334.50,306.22 334.60,307.83 334.70,310.51 334.80,306.94 334.90,307.94 335.00,308.99 335.10,306.97 335.20,308.60 335.30,306.74 335.40,308.85 335.50,307.78 335.60,306.12 335.70,309.85 335.80,307.37 335.90,307.02 336.00,305.93 336.10,306.61 336.20,307.17 336.30,307.55 336.40,309.01 336.50,304.98 336.60,306.50 336.70,308.98 336.80,307.22 336.90,307.50 337.00,309.38 337.10,307.18 337.20,307.28 337.30,306.30 337.40,309.23 337.50,307.88 337.60,304.92 337.70,306.71 337.80,304.54 337.90,307.20 338.00,306.20 338.10,304.39 338.20,303.57 338.30,302.84 338.40,304.79 338.50,302.60 338.60,301.34 338.70,302.04 338.80,297.79 338.90,295.73 339.00,293.50 339.10,291.19 339.20,294.97 339.30,286.83 339.40,283.10 339.50,282.02 339.60,275.56 339.70,273.43 339.80,271.38 339.90,269.57 340.00,272.35 340.10,272.55 340.20,276.47 340.30,281.53 340.40,281.76 340.50,284.06 340.60,286.41 340.70,288.44 340.80,289.26 340.90,292.23 341.00,293.06 341.10,292.45 341.20,293.38 341.30,293.18 341.40,293.45 341.50,293.68 341.60,296.70 341.70,294.44 341.80,298.95 341.90,294.36 342.00,294.53 342.10,296.06 342.20,295.28 342.30,296.89 342.40,296.46 342.50,295.84 342.60,296.21 342.70,296.59 342.80,301.25 342.90,299.66 343.00,301.35 343.10,298.20 343.20,298.89 343.30,298.97 343.40,300.84 343.50,300.51 343.60,301.62 343.70,304.56 343.80,300.70 343.90,303.25 344.00,301.42 344.10,304.60 344.20,302.05 344.30,302.94 344.40,303.52 344.50,306.42 344.60,303.38 344.70,302.63 344.80,302.54 344.90,303.67 345.00,302.18 345.10,301.93 345.20,302.37 345.30,303.39 345.40,301.00 345.50,302.73 345.60,304.56 345.70,299.94 345.80,303.10 345.90,304.40 346.00,298.94 346.10,300.67 346.20,298.39 346.30,299.60 346.40,297.94 346.50,298.97 346.60,297.29 346.70,297.00 346.80,296.72 346.90,296.45 347.00,296.21 347.10,296.31 347.20,295.84 347.30,296.13 347.40,297.38 347.50,295.67 347.60,296.93 347.70,296.16 347.80,296.63 347.90,297.16 348.00,297.68 348.10,298.14 348.20,299.85 348.30,298.60 348.40,301.36 348.50,298.25 348.60,299.92 348.70,300.20 348.80,296.59 348.90,298.74 349.00,300.27 349.10,294.12 349.20,295.21 349.30,292.87 349.40,292.37 349.50,290.69 349.60,289.00 349.70,289.99 349.80,288.88 349.90,285.53 350.00,287.16 350.10,284.74 350.20,282.42 350.30,278.57 350.40,282.11 350.50,279.61 350.60,274.67 350.70,273.47 350.80,272.28 350.90,273.98 351.00,273.35 351.10,268.80 351.20,268.47 351.30,267.96 351.40,264.12 351.50,264.87 351.60,261.36 351.70,260.46 351.80,257.64 351.90,253.90 352.00,248.45 352.10,241.73 352.20,235.16 352.30,229.56 352.40,228.10 352.50,221.29 352.60,217.44 352.70,214.19 352.80,210.68 352.90,206.57 353.00,205.21 353.10,200.37 353.20,199.08 353.30,197.28 353.40,196.63 353.50,201.90 353.60,203.35 353.70,209.62 353.80,214.02 353.90,227.19 354.00,237.36 354.10,242.87 354.20,249.21 354.30,252.87 354.40,251.61 354.50,249.95 354.60,251.03 354.70,247.98 354.80,244.03 354.90,242.23 355.00,239.38 355.10,236.21 355.20,236.93 355.30,229.96 355.40,227.65 355.50,229.21 355.60,227.36 355.70,229.06 355.80,231.43 355.90,236.09 356.00,238.38 356.10,240.67 356.20,241.76 356.30,244.57 356.40,250.45 356.50,250.52 356.60,254.05 356.70,256.49 356.80,259.81 356.90,263.47 357.00,269.35 357.10,268.47 357.20,274.88 357.30,273.44 357.40,277.43 357.50,280.66 357.60,279.88 357.70,282.41 357.80,285.09 357.90,285.16 358.00,285.64 358.10,288.26 358.20,289.19 358.30,288.94 358.40,293.80 358.50,292.36 358.60,291.70 358.70,292.55 358.80,298.01 358.90,298.51 359.00,296.48 359.10,295.53 359.20,296.74 359.30,300.03 359.40,299.17 359.50,298.16 359.60,298.30 359.70,301.60 359.80,299.98 359.90,301.57 360.00,302.38 360.10,305.08 360.20,302.67 360.30,303.22 360.40,302.02 360.50,305.49 360.60,305.33 360.70,303.86 360.80,302.96 360.90,303.07 361.00,304.24 361.10,307.92 361.20,305.05 361.30,305.28 361.40,305.16 361.50,305.92 361.60,302.06 361.70,301.78 361.80,301.47 361.90,301.65 362.00,301.16 362.10,301.71 362.20,300.06 362.30,300.96 362.40,299.33 362.50,304.46 362.60,298.58 362.70,304.54 362.80,302.13 362.90,297.12 363.00,299.64 363.10,298.35 363.20,295.45 363.30,297.24 363.40,295.25 363.50,295.68 363.60,293.44 363.70,293.92 363.80,294.43 363.90,292.70 364.00,291.58 364.10,291.94 364.20,290.96 364.30,292.64 364.40,291.04 364.50,295.74 364.60,293.40 364.70,295.04 364.80,296.59 364.90,294.39 365.00,300.62 365.10,295.04 365.20,297.27 365.30,297.15 365.40,299.36 365.50,296.72 365.60,295.80 365.70,297.64 365.80,296.02 365.90,296.77 366.00,296.36 366.10,300.74 366.20,297.06 366.30,296.92 366.40,297.08 366.50,297.37 366.60,297.69 366.70,300.31 366.80,298.38 366.90,299.34 367.00,299.12 367.10,300.18 367.20,301.22 367.30,300.23 367.40,300.57 367.50,302.10 367.60,303.68 367.70,304.27 367.80,302.46 367.90,301.85 368.00,302.01 368.10,304.62 368.20,305.90 368.30,304.15 368.40,306.49 368.50,302.95 368.60,303.22 368.70,306.90 368.80,303.23 368.90,305.46 369.00,305.22 369.10,304.95 369.20,307.88 369.30,303.99 369.40,304.39 369.50,304.30 369.60,304.45 369.70,304.71 369.80,305.08 369.90,305.54 370.00,306.55 370.10,305.18 370.20,305.33 370.30,306.72 370.40,307.31 370.50,305.73 370.60,305.86 370.70,309.92 370.80,308.81 370.90,309.02 371.00,308.44 371.10,307.68 371.20,306.70 371.30,308.56 371.40,307.39 371.50,307.08 371.60,307.85 371.70,307.81 371.80,309.44 371.90,306.51 372.00,312.12 372.10,306.55 372.20,307.53 372.30,309.76 372.40,306.97 372.50,307.58 372.60,308.43 372.70,303.73 372.80,307.66 372.90,306.98 373.00,308.16 373.10,309.37 373.20,309.63 373.30,311.03 373.40,310.98 373.50,310.39 373.60,308.78 373.70,310.51 373.80,307.43 373.90,308.87 374.00,311.30 374.10,310.37 374.20,307.09 374.30,308.39 374.40,310.74 374.50,310.37 374.60,311.14 374.70,306.93 374.80,307.76 374.90,309.35 375.00,308.35 375.10,309.82 375.20,309.95 375.30,310.50 375.40,309.86 375.50,310.93 375.60,311.31 375.70,310.45 375.80,308.53 375.90,312.19 376.00,310.71 376.10,311.05 376.20,310.75 376.30,308.29 376.40,311.42 376.50,309.74 376.60,309.02 376.70,312.54 376.80,310.39 376.90,311.26 377.00,312.14 377.10,313.17 377.20,308.58 377.30,310.08 377.40,312.04 377.50,310.30 377.60,306.93 377.70,311.50 377.80,311.66 377.90,312.46 378.00,311.78 378.10,310.97 378.20,311.87 378.30,311.61 378.40,311.07 378.50,312.10 378.60,312.28 378.70,310.61 378.80,313.24 378.90,313.04 379.00,313.04 379.10,308.70 379.20,312.31 379.30,312.06 379.40,311.04 379.50,313.03 379.60,310.53 379.70,313.90 379.80,312.92 379.90,311.88 380.00,314.24 380.10,313.11 380.20,312.99 380.30,311.07 380.40,313.27 380.50,314.33 380.60,313.98 380.70,311.19 380.80,314.34 380.90,314.60 381.00,313.73 381.10,312.32 381.20,311.05 381.30,311.75 381.40,312.14 381.50,313.13 381.60,313.46 381.70,312.02 381.80,311.04 381.90,312.45 382.00,311.46 382.10,314.46 382.20,311.65 382.30,313.59 382.40,314.01 382.50,312.08 382.60,314.30 382.70,313.10 382.80,312.45 382.90,312.34 383.00,313.54 383.10,314.64 383.20,311.51 383.30,314.26 383.40,313.51 383.50,312.93 383.60,313.68 383.70,313.84 383.80,313.84 383.90,314.81 384.00,313.08 384.10,316.13 384.20,315.06 384.30,313.58 384.40,312.27 384.50,314.28 384.60,313.94 384.70,315.17 384.80,315.20 384.90,316.45 385.00,314.43 385.10,315.41 385.20,314.24 385.30,314.34 385.40,316.28 385.50,314.66 385.60,314.73 385.70,314.53 385.80,315.23 385.90,315.53 386.00,314.86 386.10,313.88 386.20,315.35 386.30,314.25 386.40,314.72 386.50,315.28 386.60,315.33 386.70,312.88 386.80,316.73 386.90,315.87 387.00,316.95 387.10,317.50 387.20,314.24 387.30,314.59 387.40,315.35 387.50,315.99 387.60,314.64 387.70,314.83 387.80,316.11 387.90,314.30 388.00,315.31 388.10,316.11 388.20,314.87 388.30,315.82 388.40,315.00 388.50,313.66 388.60,314.60 388.70,314.90 388.80,314.77 388.90,315.09 389.00,315.41 389.10,315.30 389.20,315.18 389.30,314.62 389.40,314.79 389.50,314.64 389.60,314.43 389.70,316.17 389.80,313.23 389.90,315.12 390.00,313.44 390.10,314.36 390.20,315.60 390.30,314.64 390.40,316.14 390.50,314.06 390.60,314.65 390.70,314.37 390.80,314.97 390.90,314.70 391.00,314.67 391.10,315.12 391.20,316.06 391.30,315.26 391.40,315.22 391.50,314.95 391.60,314.63 391.70,314.03 391.80,314.43 391.90,315.43 392.00,313.77 392.10,316.08 392.20,315.18 392.30,314.77 392.40,315.16 392.50,316.26 392.60,316.04 392.70,315.99 392.80,317.34 392.90,317.89 393.00,314.73 393.10,316.67 393.20,315.24 393.30,314.72 393.40,315.48 393.50,316.85 393.60,315.69 393.70,315.54 393.80,317.19 393.90,316.40 394.00,315.87 394.10,317.51 394.20,316.32 394.30,315.23 394.40,314.88 394.50,315.44 394.60,315.91 394.70,316.55 394.80,316.42 394.90,315.73 395.00,314.56 395.10,316.35 395.20,315.56 395.30,314.46 395.40,314.28 395.50,315.50 395.60,315.56 395.70,315.91 395.80,314.08 395.90,316.78 396.00,313.46 396.10,314.97 396.20,316.14 396.30,315.84 396.40,314.06 396.50,315.41 396.60,315.93 396.70,315.48 396.80,313.96 396.90,316.27 397.00,313.39 397.10,314.86 397.20,313.89 397.30,314.47 397.40,314.58 397.50,315.33 397.60,313.82 397.70,315.15 397.80,316.13 397.90,315.11 398.00,315.57 398.10,315.52 398.20,314.54 398.30,314.92 398.40,315.34 398.50,315.77 398.60,317.17 398.70,316.87 398.80,315.10 398.90,315.17 399.00,314.71 399.10,313.62 399.20,316.80 399.30,316.16 399.40,314.05 399.50,315.77 399.60,317.83 399.70,316.23 399.80,316.27 399.90,316.02 400.00,315.20 400.10,314.86 400.20,315.16 400.30,316.01 400.40,315.68 400.50,316.49 400.60,317.40 400.70,316.40 400.80,316.60 400.90,315.57 401.00,314.76 401.10,317.72 401.20,316.47 401.30,316.85 401.40,315.49 401.50,314.34 401.60,316.91 401.70,313.91 401.80,315.58 401.90,315.24 402.00,315.85 402.10,316.32 402.20,316.30 402.30,313.77 402.40,316.37 402.50,313.87 402.60,316.02 402.70,315.03 402.80,314.40 402.90,314.88 403.00,314.17 403.10,315.25 403.20,316.02 403.30,315.87 403.40,315.20 403.50,316.07 403.60,315.54 403.70,316.92 403.80,315.52 403.90,314.58 404.00,314.83 404.10,314.44 404.20,314.83 404.30,314.97 404.40,315.68 404.50,315.78 404.60,315.19 404.70,315.53 404.80,314.60 404.90,314.79 405.00,313.24 405.10,314.68 405.20,314.96 405.30,317.55 405.40,314.34 405.50,315.57 405.60,315.29 405.70,314.30 405.80,315.87 405.90,315.71 406.00,314.54 406.10,313.86 406.20,315.77 406.30,314.68 406.40,316.44 406.50,315.70 406.60,316.39 406.70,315.72 406.80,317.26 406.90,316.58 407.00,317.28 407.10,316.15 407.20,315.23 407.30,314.92 407.40,315.68 407.50,316.33 407.60,315.59 407.70,318.10 407.80,316.07 407.90,316.50 408.00,316.21 408.10,315.14 408.20,317.02 408.30,316.70 408.40,316.89 408.50,315.46 408.60,316.25 408.70,316.22 408.80,317.21 408.90,315.18 409.00,316.86 409.10,317.36 409.20,316.02 409.30,315.73 409.40,317.46 409.50,316.61 409.60,317.34 409.70,317.05 409.80,317.32 409.90,316.33 410.00,314.79 410.10,316.96 410.20,315.95 410.30,316.98 410.40,316.07 410.50,317.78 410.60,316.28 410.70,317.13 410.80,317.34 410.90,316.39 411.00,316.70 411.10,316.42 411.20,315.69 411.30,317.57 411.40,315.67 411.50,315.14 411.60,315.97 411.70,316.45 411.80,316.39 411.90,316.06 412.00,315.97 412.10,314.63 412.20,316.80 412.30,317.66 412.40,315.72 412.50,314.88 412.60,316.87 412.70,316.15 412.80,313.18 412.90,315.70 413.00,315.16 413.10,315.38 413.20,317.86 413.30,317.09 413.40,316.20 413.50,316.35 413.60,317.58 413.70,315.50 413.80,316.95 413.90,315.88 414.00,317.05 414.10,316.58 414.20,315.84 414.30,317.27 414.40,316.87 414.50,317.90 414.60,316.15 414.70,316.58 414.80,315.94 414.90,317.45 415.00,315.90 415.10,316.49 415.20,317.53 415.30,316.93 415.40,316.74 415.50,316.73 415.60,316.78 415.70,317.03 415.80,316.28 415.90,314.96 416.00,317.57 416.10,315.69 416.20,317.97 416.30,316.75 416.40,319.02 416.50,317.45 416.60,316.86 416.70,317.25 416.80,315.43 416.90,316.66 417.00,316.24 417.10,316.54 417.20,314.91 417.30,314.79 417.40,317.08 417.50,316.55 417.60,316.16 417.70,316.44 417.80,315.99 417.90,316.13 418.00,317.05 418.10,316.32 418.20,317.06 418.30,315.95 418.40,315.08 418.50,315.99 418.60,316.39 418.70,315.62 418.80,316.19 418.90,316.10 419.00,317.22 419.10,317.15 419.20,317.35 419.30,315.87 419.40,316.74 419.50,317.48 419.60,316.60 419.70,316.40 419.80,315.85 419.90,317.10 420.00,316.58 420.10,317.23 420.20,316.32 420.30,318.07 420.40,316.43 420.50,315.48 420.60,316.62 420.70,316.85 420.80,317.50 420.90,316.13 421.00,316.09 421.10,316.33 421.20,316.25 421.30,314.92 421.40,317.18 421.50,317.62 421.60,316.06 421.70,315.91 421.80,316.60 421.90,316.10 422.00,317.39 422.10,316.30 422.20,317.29 422.30,315.85 422.40,315.73 422.50,315.64 422.60,315.76 422.70,317.22 422.80,317.56 422.90,317.01 423.00,317.07 423.10,315.16 423.20,317.77 423.30,315.92 423.40,317.91 423.50,318.78 423.60,316.92 423.70,317.35 423.80,317.34 423.90,315.81 424.00,315.94 424.10,316.28 424.20,316.93 424.30,317.46 424.40,316.89 424.50,317.65 424.60,316.39 424.70,315.67 424.80,316.81 424.90,316.74 425.00,315.68 425.10,317.60 425.20,316.06 425.30,316.25 425.40,317.01 425.50,316.01 425.60,317.35 425.70,317.19 425.80,317.26 425.90,316.93 426.00,316.58 426.10,316.38 426.20,317.23 426.30,318.08 426.40,317.64 426.50,317.33 426.60,317.84 426.70,318.11 426.80,316.09 426.90,317.04 427.00,318.03 427.10,316.56 427.20,316.70 427.30,317.53 427.40,316.87 427.50,317.97 427.60,316.76 427.70,317.44 427.80,318.92 427.90,317.82 428.00,315.84 428.10,316.05 428.20,316.05 428.30,316.77 428.40,315.68 428.50,317.18 428.60,318.07 428.70,317.92 428.80,316.07 428.90,316.43 429.00,316.39 429.10,315.96 429.20,317.91 429.30,316.03 429.40,315.69 429.50,316.83 429.60,316.80 429.70,317.73 429.80,317.73 429.90,316.40 430.00,314.91 430.10,317.08 430.20,317.20 430.30,317.99 430.40,315.38 430.50,315.72 430.60,317.87 430.70,317.96 430.80,317.74 430.90,316.74 431.00,317.80 431.10,316.41 431.20,315.91 431.30,316.87 431.40,317.04 431.50,317.63 431.60,317.89 431.70,315.71 431.80,317.34 431.90,317.53 432.00,316.20 432.10,317.01 432.20,317.29 432.30,317.62 432.40,316.62 432.50,316.84 432.60,316.47 432.70,317.60 432.80,317.08 432.90,316.89 433.00,317.85 433.10,317.22 433.20,316.42 433.30,318.23 433.40,318.09 433.50,317.69 433.60,316.51 433.70,318.17 433.80,316.84 433.90,315.84 434.00,317.18 434.10,318.66 434.20,316.91 434.30,317.70 434.40,318.30 434.50,317.38 434.60,316.99 434.70,317.23 434.80,317.67 434.90,316.82 435.00,317.48 435.10,317.64 435.20,316.92 435.30,317.76 435.40,317.63 435.50,316.95 435.60,317.05 435.70,317.27 435.80,317.06 435.90,317.00 436.00,316.36 436.10,317.22 436.20,317.68 436.30,317.59 436.40,316.44 436.50,317.48 436.60,317.49 436.70,316.28 436.80,317.36 436.90,316.79 437.00,316.60 437.10,317.03 437.20,316.65 437.30,315.06 437.40,316.89 437.50,315.83 437.60,316.58 437.70,317.13 437.80,316.39 437.90,316.20 438.00,316.61 438.10,316.85 438.20,315.81 438.30,315.94 438.40,316.78 438.50,317.60 438.60,316.38 438.70,317.04 438.80,315.81 438.90,316.38 439.00,316.44 439.10,315.42 439.20,316.40 439.30,316.30 439.40,314.53 439.50,316.42 439.60,316.75 439.70,316.74 439.80,316.83 439.90,315.78 440.00,316.10 440.10,316.54 440.20,316.06 440.30,316.39 440.40,317.70 440.50,316.13 440.60,316.56 440.70,318.22 440.80,316.74 440.90,316.10 441.00,317.05 441.10,317.00 441.20,316.96 441.30,315.60 441.40,317.06 441.50,317.12 441.60,318.37 441.70,317.32 441.80,316.46 441.90,317.01 442.00,317.27 442.10,316.64 442.20,316.70 442.30,317.76 442.40,317.09 442.50,317.11 442.60,315.99 442.70,317.04 442.80,315.30 442.90,317.67 443.00,316.41 443.10,317.26 443.20,317.85 443.30,316.01 443.40,317.73 443.50,317.06 443.60,317.79 443.70,316.69 443.80,316.47 443.90,318.00 444.00,317.38 444.10,317.13 444.20,316.27 444.30,318.15 444.40,316.93 444.50,317.04 444.60,316.70 444.70,317.24 444.80,317.68 444.90,317.19 445.00,317.17 445.10,316.81 445.20,318.33 445.30,318.40 445.40,316.94 445.50,316.47 445.60,317.30 445.70,315.85 445.80,317.21 445.90,317.19 446.00,317.06 446.10,318.09 446.20,318.23 446.30,317.15 446.40,316.50 446.50,317.50 446.60,317.55 446.70,315.77 446.80,316.08 446.90,316.41 447.00,315.33 447.10,315.70 447.20,317.71 447.30,315.50 447.40,317.02 447.50,315.73 447.60,317.01 447.70,316.44 447.80,316.81 447.90,315.02 448.00,316.21 448.10,315.47 448.20,316.43 448.30,316.32 448.40,315.81 448.50,315.49 448.60,315.50 448.70,315.64 448.80,314.91 448.90,314.89 449.00,314.63 449.10,314.17 449.20,315.98 449.30,313.70 449.40,316.05 449.50,315.39 449.60,312.89 449.70,312.60 449.80,314.31 449.90,313.01 450.00,314.10 450.10,314.80 450.20,313.98 450.30,313.13 450.40,312.95 450.50,314.65 450.60,312.21 450.70,314.47 450.80,314.57 450.90,311.14 451.00,311.61 451.10,313.14 451.20,309.40 451.30,310.54 451.40,311.02 451.50,307.46 451.60,309.12 451.70,308.30 451.80,306.81 451.90,309.70 452.00,306.56 452.10,310.16 452.20,307.12 452.30,304.29 452.40,305.44 452.50,303.34 452.60,305.53 452.70,304.81 452.80,302.00 452.90,302.01 453.00,303.30 453.10,302.19 453.20,300.61 453.30,303.64 453.40,303.92 453.50,299.84 453.60,303.66 453.70,299.37 453.80,300.06 453.90,298.99 454.00,298.90 454.10,300.25 454.20,298.68 454.30,299.61 454.40,303.21 454.50,300.85 454.60,303.02 454.70,301.95 454.80,299.31 454.90,304.11 455.00,302.55 455.10,302.42 455.20,300.70 455.30,300.69 455.40,300.80 455.50,301.89 455.60,302.63 455.70,302.41 455.80,302.70 455.90,302.16 456.00,302.47 456.10,302.80 456.20,304.75 456.30,303.78 456.40,304.11 456.50,305.34 456.60,304.70 456.70,305.31 456.80,307.84 456.90,306.04 457.00,305.08 457.10,307.69 457.20,308.22 457.30,308.16 457.40,305.36 457.50,309.06 457.60,307.89 457.70,308.22 457.80,308.34 457.90,309.07 458.00,309.27 458.10,310.84 458.20,309.18 458.30,308.80 458.40,309.93 458.50,308.90 458.60,310.64 458.70,309.31 458.80,310.14 458.90,308.33 459.00,310.47 459.10,309.91 459.20,307.76 459.30,308.40 459.40,309.02 459.50,306.94 459.60,307.21 459.70,309.46 459.80,309.43 459.90,310.62 460.00,306.67 460.10,307.95 460.20,305.30 460.30,310.81 460.40,305.86 460.50,307.22 460.60,310.34 460.70,309.21 460.80,305.40 460.90,309.84 461.00,306.34 461.10,303.98 461.20,305.01 461.30,305.16 461.40,304.60 461.50,301.78 461.60,305.78 461.70,300.45 461.80,300.30 461.90,302.77 462.00,299.73 462.10,297.85 462.20,295.79 462.30,296.91 462.40,297.37 462.50,292.29 462.60,292.97 462.70,290.08 462.80,288.60 462.90,286.84 463.00,286.79 463.10,286.44 463.20,282.46 463.30,283.09 463.40,279.55 463.50,279.95 463.60,275.88 463.70,272.67 463.80,270.16 463.90,269.24 464.00,267.87 464.10,264.91 464.20,265.27 464.30,264.89 464.40,266.14 464.50,270.39 464.60,271.89 464.70,275.01 464.80,275.31 464.90,277.13 465.00,282.00 465.10,278.82 465.20,282.21 465.30,286.39 465.40,288.80 465.50,287.19 465.60,287.07 465.70,287.34 465.80,289.33 465.90,291.07 466.00,291.88 466.10,293.90 466.20,295.03 466.30,293.90 466.40,294.64 466.50,296.07 466.60,298.38 466.70,301.60 466.80,298.00 466.90,302.03 467.00,300.13 467.10,303.53 467.20,305.68 467.30,303.80 467.40,302.48 467.50,303.49 467.60,305.43 467.70,304.82 467.80,305.75 467.90,305.23 468.00,306.33 468.10,306.05 468.20,308.65 468.30,308.12 468.40,309.06 468.50,305.87 468.60,307.89 468.70,307.76 468.80,308.48 468.90,308.13 469.00,308.61 469.10,311.96 469.20,309.72 469.30,308.66 469.40,310.14 469.50,313.61 469.60,311.84 469.70,309.99 469.80,311.03 469.90,311.43 470.00,311.74 470.10,309.66 470.20,310.91 470.30,311.98 470.40,310.33 470.50,312.24 470.60,312.67 470.70,313.59 470.80,314.03 470.90,312.77 471.00,313.34 471.10,313.95 471.20,314.42 471.30,313.52 471.40,312.75 471.50,314.27 471.60,314.64 471.70,314.00 471.80,314.53 471.90,315.65 472.00,313.62 472.10,313.51 472.20,313.22 472.30,314.72 472.40,315.38 472.50,314.04 472.60,316.34 472.70,314.12 472.80,315.00 472.90,314.70 473.00,316.16 473.10,314.35 473.20,316.50 473.30,314.88 473.40,313.87 473.50,314.62 473.60,315.03 473.70,316.71 473.80,314.82 473.90,315.26 474.00,317.11 474.10,315.45 474.20,314.78 474.30,314.70 474.40,314.01 474.50,315.65 474.60,316.38 474.70,315.03 474.80,314.44 474.90,315.56 475.00,315.33 475.10,315.20 475.20,315.69 475.30,315.34 475.40,315.01 475.50,316.14 475.60,313.79 475.70,314.40 475.80,315.12 475.90,314.26 476.00,316.61 476.10,313.63 476.20,316.01 476.30,315.93 476.40,315.79 476.50,315.90 476.60,315.15 476.70,315.08 476.80,316.84 476.90,315.65 477.00,314.67 477.10,314.92 477.20,314.75 477.30,316.24 477.40,316.99 477.50,315.92 477.60,316.34 477.70,315.91 477.80,317.05 477.90,317.11 478.00,317.21 478.10,317.94 478.20,315.67 478.30,317.28 478.40,315.53 478.50,317.31 478.60,317.42 478.70,317.39 478.80,317.48 478.90,316.80 479.00,316.45 479.10,317.52 479.20,316.49 479.30,317.49 479.40,316.34 479.50,317.23 479.60,317.19 479.70,316.36 479.80,316.74 479.90,317.64 480.00,316.99 480.10,317.34 480.20,316.56 480.30,317.04 480.40,315.88 480.50,316.39 480.60,317.85 480.70,317.35 480.80,316.97 480.90,317.06 481.00,316.00 481.10,317.28 481.20,316.11 481.30,316.48 481.40,317.53 481.50,316.51 481.60,316.69 481.70,317.02 481.80,317.18 481.90,318.10 482.00,315.93 482.10,316.89 482.20,317.64 482.30,316.89 482.40,316.99 482.50,316.72 482.60,317.11 482.70,317.83 482.80,318.28 482.90,317.66 483.00,318.43 483.10,317.53 483.20,316.29 483.30,318.04 483.40,316.06 483.50,317.48 483.60,317.53 483.70,316.72 483.80,317.40 483.90,317.15 484.00,317.64 484.10,317.32 484.20,317.97 484.30,317.25 484.40,317.94 484.50,317.49 484.60,317.65 484.70,317.54 484.80,317.10 484.90,318.22 485.00,317.81 485.10,315.74 485.20,316.47 485.30,318.55 485.40,317.10 485.50,319.29 485.60,317.56 485.70,317.55 485.80,316.86 485.90,317.01 486.00,317.26 486.10,317.77 486.20,317.17 486.30,317.04 486.40,316.34 486.50,316.69 486.60,316.70 486.70,316.89 486.80,316.43 486.90,316.15 487.00,316.69 487.10,315.14 487.20,315.80 487.30,316.27 487.40,317.12 487.50,316.33 487.60,316.04 487.70,317.29 487.80,316.70 487.90,317.76 488.00,316.63 488.10,316.27 488.20,316.51 488.30,318.04 488.40,317.87 488.50,316.89 488.60,317.53 488.70,315.80 488.80,317.70 488.90,317.07 489.00,316.78 489.10,316.88 489.20,317.06 489.30,316.58 489.40,316.66 489.50,316.09 489.60,318.11 489.70,316.39 489.80,316.95 489.90,317.83 490.00,318.01 490.10,318.20 490.20,316.80 490.30,316.95 490.40,317.27 490.50,316.04 490.60,318.03 490.70,316.29 490.80,317.40 490.90,318.19 491.00,318.19 491.10,317.31 491.20,318.32 491.30,318.48 491.40,316.54 491.50,317.59 491.60,318.28 491.70,318.15 491.80,317.71 491.90,317.81 492.00,319.56 492.10,317.67 492.20,318.71 492.30,317.12 492.40,318.37 492.50,318.75 492.60,317.73 492.70,317.60 492.80,319.39 492.90,317.94 493.00,318.83 493.10,317.08 493.20,319.34 493.30,316.72 493.40,317.48 493.50,317.72 493.60,318.11 493.70,318.29 493.80,319.29 493.90,319.63 494.00,319.48 494.10,318.71 494.20,318.26 494.30,316.61 494.40,318.00 494.50,317.63 494.60,318.46 494.70,317.27 494.80,317.37 494.90,317.40 495.00,318.37 495.10,318.00 495.20,317.12 495.30,316.59 495.40,317.40 495.50,317.33 495.60,317.37 495.70,317.80 495.80,318.25 495.90,318.27 496.00,317.22 496.10,317.14 496.20,318.76 496.30,317.50 496.40,318.18 496.50,317.79 496.60,317.92 496.70,318.79 496.80,317.47 496.90,318.43 497.00,318.01 497.10,317.52 497.20,317.29 497.30,317.24 497.40,318.44 497.50,318.32 497.60,316.99 497.70,317.88 497.80,316.29 497.90,317.63 498.00,319.05 498.10,316.72 498.20,317.79 498.30,317.12 498.40,317.63 498.50,316.80 498.60,317.69 498.70,315.88 498.80,317.37 498.90,317.32 499.00,317.48 499.10,319.00 499.20,316.70 499.30,317.04 499.40,316.55 499.50,317.88 499.60,317.53 499.70,316.66 499.80,318.18 499.90,317.69 500.00,318.52 500.10,318.03 500.20,317.53 500.30,316.89 500.40,315.89 500.50,317.00 500.60,318.24 500.70,317.23 500.80,316.78 500.90,317.55 501.00,317.90 501.10,319.37 501.20,316.62 501.30,317.07 501.40,316.49 501.50,316.78 501.60,317.96 501.70,317.21 501.80,316.22 501.90,318.24 502.00,318.55 502.10,317.84 502.20,316.54 502.30,316.49 502.40,318.19 502.50,316.52 502.60,316.85 502.70,316.20 502.80,318.65 502.90,316.77 503.00,317.13 503.10,316.71 503.20,316.76 503.30,316.40 503.40,318.05 503.50,316.74 503.60,318.29 503.70,316.29 503.80,317.56 503.90,317.90 504.00,316.35 504.10,317.36 504.20,316.75 504.30,316.35 504.40,316.83 504.50,315.76 504.60,316.91 504.70,315.98 504.80,317.58 504.90,318.21 505.00,318.12 505.10,316.55 505.20,316.97 505.30,318.49 505.40,317.96 505.50,317.45 505.60,315.39 505.70,316.67 505.80,318.50 505.90,317.17 506.00,316.46 506.10,316.80 506.20,318.45 506.30,317.59 506.40,315.65 506.50,315.71 506.60,316.53 506.70,317.41 506.80,315.85 506.90,315.94 507.00,314.42 507.10,315.82 507.20,316.70 507.30,316.68 507.40,315.07 507.50,316.79 507.60,315.52 507.70,315.06 507.80,316.55 507.90,314.91 508.00,315.84 508.10,315.56 508.20,316.16 508.30,316.48 508.40,316.04 508.50,315.81 508.60,316.12 508.70,314.79 508.80,316.55 508.90,318.26 509.00,317.09 509.10,317.77 509.20,317.01 509.30,317.11 509.40,317.51 509.50,317.76 509.60,317.81 509.70,316.78 509.80,317.49 509.90,316.41 510.00,318.34 510.10,317.59 510.20,317.44 510.30,316.75 510.40,318.08 510.50,318.52 510.60,318.19 510.70,318.67 510.80,317.31 510.90,318.61 511.00,317.95 511.10,315.97 511.20,318.20 511.30,317.26 511.40,317.91 511.50,317.54 511.60,317.38 511.70,318.83 511.80,317.62 511.90,318.17 512.00,318.55 512.10,317.73 512.20,317.07 512.30,318.03 512.40,317.90 512.50,317.27 512.60,318.02 512.70,318.87 512.80,318.62 512.90,319.05 513.00,318.91 513.10,318.00 513.20,317.85 513.30,317.01 513.40,318.70 513.50,317.37 513.60,318.22 513.70,319.02 513.80,317.85 513.90,316.64 514.00,316.96 514.10,317.47 514.20,318.73 514.30,317.47 514.40,317.60 514.50,316.89 514.60,317.95 514.70,317.75 514.80,318.27 514.90,316.94 515.00,318.10 515.10,316.57 515.20,317.11 515.30,317.19 515.40,317.45 515.50,317.89 515.60,315.82 515.70,317.51 515.80,317.26 515.90,316.55 516.00,317.32 516.10,317.89 516.20,317.20 516.30,317.18 516.40,318.06 516.50,316.98 516.60,318.34 516.70,317.84 516.80,317.88 516.90,318.01 517.00,318.50 517.10,317.03 517.20,318.43 517.30,316.91 517.40,317.85 517.50,318.03 517.60,317.69 517.70,316.74 517.80,316.66 517.90,316.75" fill="none" stroke="#000" stroke-width="0.5" stroke-linejoin="round"/>
<text transform="translate(360.6,195.4) rotate(-90)" font-size="8.4" text-anchor="end" fill="#000" stroke="#000" stroke-width="0.22">6649</text>
<text transform="translate(367.3,270.4) rotate(-90)" font-size="8.4" text-anchor="end" fill="#000" stroke="#000" stroke-width="0.22">6808</text>
<text transform="translate(457.0,279.9) rotate(-90)" font-size="8.4" text-anchor="end" fill="#000" stroke="#000" stroke-width="0.22">8158</text>
<text transform="translate(468.8,247.0) rotate(-90)" font-size="8.4" text-anchor="end" fill="#000" stroke="#000" stroke-width="0.22">8315</text>
</svg></body></html>
